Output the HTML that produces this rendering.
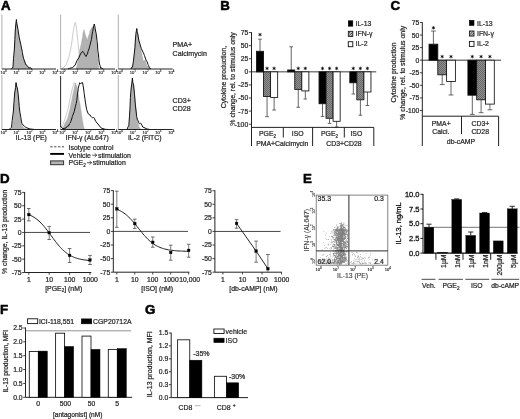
<!DOCTYPE html>
<html><head><meta charset="utf-8"><title>Figure</title>
<style>html,body{margin:0;padding:0;background:#fff;}svg{display:block;}text{font-family:"Liberation Sans",sans-serif;}</style>
</head><body>
<svg width="520" height="419" viewBox="0 0 520 419">
<defs>
<pattern id="hatch" width="2" height="2" patternUnits="userSpaceOnUse">
<rect width="2" height="2" fill="#8e8e8e"/>
<rect x="0" y="0" width="1" height="1" fill="#6a6a6a"/>
<rect x="1" y="1" width="1" height="1" fill="#6a6a6a"/>
</pattern>
<pattern id="hatch2" width="2.6" height="2.6" patternUnits="userSpaceOnUse">
<rect width="2.6" height="2.6" fill="#fff"/>
<path d="M-1,3.6 L3.6,-1 M-1,1 L1,-1 M1.6,3.6 L3.6,1.6" stroke="#222" stroke-width="0.9"/>
</pattern>
<filter id="soft" x="-2%" y="-2%" width="104%" height="104%"><feGaussianBlur stdDeviation="0.38"/></filter>
</defs>
<rect width="520" height="419" fill="#fff"/>
<g filter="url(#soft)">

<text x="0.9" y="9.8" font-size="13.3" text-anchor="start" font-weight="bold" fill="#000" stroke="#000" stroke-width="0.55" >A</text>
<text x="220.3" y="10" font-size="13.3" text-anchor="start" font-weight="bold" fill="#000" stroke="#000" stroke-width="0.55" >B</text>
<text x="390.6" y="10.1" font-size="13.3" text-anchor="start" font-weight="bold" fill="#000" stroke="#000" stroke-width="0.55" >C</text>
<text x="0" y="182.8" font-size="13.3" text-anchor="start" font-weight="bold" fill="#000" stroke="#000" stroke-width="0.55" >D</text>
<text x="302.9" y="183.4" font-size="13.3" text-anchor="start" font-weight="bold" fill="#000" stroke="#000" stroke-width="0.55" >E</text>
<text x="0" y="313.8" font-size="13.3" text-anchor="start" font-weight="bold" fill="#000" stroke="#000" stroke-width="0.55" >F</text>
<text x="145" y="313.8" font-size="13.3" text-anchor="start" font-weight="bold" fill="#000" stroke="#000" stroke-width="0.55" >G</text>
<line x1="1.90" y1="14.70" x2="1.90" y2="69.00" stroke="#999" stroke-width="0.8" />
<path d="M12.50,69.00 L12.91,67.01 L13.50,66.00 L14.08,57.40 L14.50,50.00 L15.02,39.81 L15.50,30.00 L15.78,25.51 L16.50,21.00 L16.77,23.91 L17.50,27.00 L17.78,30.43 L18.50,35.00 L19.21,38.96 L20.00,42.00 L20.56,45.61 L21.50,50.00 L22.31,54.13 L23.00,57.00 L24.04,59.86 L25.00,63.00 L26.24,64.12 L27.00,66.50 L28.68,67.21 L30.00,68.50 L30.82,68.21 L32.00,69.00 Z" fill="#b2b2b2" stroke="#9a9a9a" stroke-width="0.4"/>
<path d="M11.00,69.00 L11.90,68.57 L13.00,67.00 L13.49,58.65 L14.30,50.00 L14.87,39.77 L15.30,30.00 L15.87,23.96 L16.40,19.50 L16.63,22.22 L17.30,26.00 L17.99,29.37 L18.50,33.00 L19.16,37.15 L20.00,41.00 L20.73,44.14 L21.50,48.00 L22.40,52.36 L23.00,56.00 L23.62,58.63 L24.50,61.00 L25.51,63.93 L26.50,65.50 L27.86,66.37 L29.00,68.00 L30.74,67.81 L32.00,69.00" fill="none" stroke="#111" stroke-width="1.0" stroke-linejoin="round"/>
<line x1="1.90" y1="69.00" x2="56.00" y2="69.00" stroke="#222" stroke-width="1.0" />
<text x="0.5999999999999996" y="73.5" font-size="4.1" text-anchor="start" font-weight="normal" fill="#2a2a2a" stroke="#2a2a2a" stroke-width="0.16" >10</text>
<text x="5.1" y="71.7" font-size="2.9" text-anchor="start" font-weight="normal" fill="#2a2a2a" stroke="#2a2a2a" stroke-width="0.14" >0</text>
<text x="13.5" y="73.5" font-size="4.1" text-anchor="start" font-weight="normal" fill="#2a2a2a" stroke="#2a2a2a" stroke-width="0.16" >10</text>
<text x="18.0" y="71.7" font-size="2.9" text-anchor="start" font-weight="normal" fill="#2a2a2a" stroke="#2a2a2a" stroke-width="0.14" >1</text>
<text x="26.400000000000002" y="73.5" font-size="4.1" text-anchor="start" font-weight="normal" fill="#2a2a2a" stroke="#2a2a2a" stroke-width="0.16" >10</text>
<text x="30.900000000000002" y="71.7" font-size="2.9" text-anchor="start" font-weight="normal" fill="#2a2a2a" stroke="#2a2a2a" stroke-width="0.14" >2</text>
<text x="39.3" y="73.5" font-size="4.1" text-anchor="start" font-weight="normal" fill="#2a2a2a" stroke="#2a2a2a" stroke-width="0.16" >10</text>
<text x="43.8" y="71.7" font-size="2.9" text-anchor="start" font-weight="normal" fill="#2a2a2a" stroke="#2a2a2a" stroke-width="0.14" >3</text>
<text x="52.199999999999996" y="73.5" font-size="4.1" text-anchor="start" font-weight="normal" fill="#2a2a2a" stroke="#2a2a2a" stroke-width="0.16" >10</text>
<text x="56.699999999999996" y="71.7" font-size="2.9" text-anchor="start" font-weight="normal" fill="#2a2a2a" stroke="#2a2a2a" stroke-width="0.14" >4</text>
<line x1="60.60" y1="14.70" x2="60.60" y2="69.00" stroke="#999" stroke-width="0.8" />
<path d="M61.00,69.00 L63.00,68.00 L66.00,65.00 L69.00,57.00 L71.50,45.00 L73.00,33.00 L74.50,24.00 L75.30,22.50 L76.20,26.00 L77.50,38.00 L79.00,52.00 L80.50,62.00 L82.00,67.00 L84.00,69.00" fill="none" stroke="#aaa" stroke-width="0.6"/>
<path d="M76.00,69.00 L76.71,66.86 L77.50,64.00 L78.08,59.48 L79.00,55.00 L79.52,51.24 L80.50,47.00 L81.38,43.60 L82.00,40.00 L82.69,36.24 L83.00,33.00 L83.60,31.38 L84.00,29.50 L84.54,31.69 L85.00,34.00 L85.92,36.62 L86.50,38.00 L86.99,39.48 L87.50,40.50 L87.78,38.53 L88.50,36.00 L89.32,34.19 L90.00,31.00 L90.91,29.20 L91.50,28.00 L92.19,27.49 L93.00,26.50 L93.51,27.20 L94.50,28.00 L95.08,30.96 L96.00,35.00 L96.28,41.88 L97.00,48.00 L97.31,53.65 L98.00,60.00 L98.35,65.02 L98.80,69.00 Z" fill="#b2b2b2" stroke="#9a9a9a" stroke-width="0.4"/>
<path d="M68.00,69.00 L69.29,68.41 L71.00,68.00 L72.52,67.69 L74.00,66.00 L75.16,65.16 L76.00,63.00 L76.89,60.85 L78.00,59.00 L78.93,57.69 L80.00,55.00 L81.23,52.87 L82.00,52.00 L83.00,51.50 L83.59,52.27 L84.50,54.00 L85.12,55.22 L86.00,56.50 L86.79,54.82 L87.50,54.00 L88.00,51.35 L89.00,49.00 L89.68,46.12 L90.50,43.00 L91.48,39.34 L92.00,35.00 L92.66,31.71 L93.30,28.00 L93.89,25.20 L94.30,24.00 L94.95,27.00 L95.20,29.00 L96.04,33.04 L96.50,36.00 L96.95,40.32 L97.50,45.00 L97.80,50.24 L98.50,55.00 L98.78,58.72 L99.50,64.00 L100.05,65.64 L100.90,68.50 L101.87,67.94 L103.00,69.00" fill="none" stroke="#111" stroke-width="1.0" stroke-linejoin="round"/>
<line x1="60.60" y1="69.00" x2="115.00" y2="69.00" stroke="#222" stroke-width="1.0" />
<text x="59.3" y="73.5" font-size="4.1" text-anchor="start" font-weight="normal" fill="#2a2a2a" stroke="#2a2a2a" stroke-width="0.16" >10</text>
<text x="63.8" y="71.7" font-size="2.9" text-anchor="start" font-weight="normal" fill="#2a2a2a" stroke="#2a2a2a" stroke-width="0.14" >0</text>
<text x="72.3" y="73.5" font-size="4.1" text-anchor="start" font-weight="normal" fill="#2a2a2a" stroke="#2a2a2a" stroke-width="0.16" >10</text>
<text x="76.8" y="71.7" font-size="2.9" text-anchor="start" font-weight="normal" fill="#2a2a2a" stroke="#2a2a2a" stroke-width="0.14" >1</text>
<text x="85.3" y="73.5" font-size="4.1" text-anchor="start" font-weight="normal" fill="#2a2a2a" stroke="#2a2a2a" stroke-width="0.16" >10</text>
<text x="89.8" y="71.7" font-size="2.9" text-anchor="start" font-weight="normal" fill="#2a2a2a" stroke="#2a2a2a" stroke-width="0.14" >2</text>
<text x="98.3" y="73.5" font-size="4.1" text-anchor="start" font-weight="normal" fill="#2a2a2a" stroke="#2a2a2a" stroke-width="0.16" >10</text>
<text x="102.8" y="71.7" font-size="2.9" text-anchor="start" font-weight="normal" fill="#2a2a2a" stroke="#2a2a2a" stroke-width="0.14" >3</text>
<text x="111.3" y="73.5" font-size="4.1" text-anchor="start" font-weight="normal" fill="#2a2a2a" stroke="#2a2a2a" stroke-width="0.16" >10</text>
<text x="115.8" y="71.7" font-size="2.9" text-anchor="start" font-weight="normal" fill="#2a2a2a" stroke="#2a2a2a" stroke-width="0.14" >4</text>
<line x1="118.30" y1="14.70" x2="118.30" y2="69.00" stroke="#999" stroke-width="0.8" />
<path d="M131.50,69.00 L132.00,67.01 L133.00,66.00 L133.55,60.31 L134.50,55.00 L134.91,47.02 L135.80,38.00 L136.41,33.26 L136.90,29.50 L137.33,32.54 L138.00,36.00 L138.68,39.47 L139.50,44.00 L140.42,47.69 L141.00,50.00 L141.73,53.48 L142.50,57.00 L142.79,58.94 L143.50,62.00 L143.92,60.67 L144.50,60.00 L145.41,61.03 L146.00,63.00 L146.76,65.38 L148.00,66.50 L149.26,67.26 L150.50,69.00 Z" fill="#b2b2b2" stroke="#9a9a9a" stroke-width="0.4"/>
<path d="M131.00,69.00 L131.77,67.15 L132.50,67.00 L133.26,62.36 L134.00,56.00 L134.93,47.35 L135.50,38.00 L136.03,33.01 L136.80,28.50 L137.13,31.74 L137.80,34.00 L138.42,38.00 L139.00,41.00 L139.66,43.00 L140.50,46.00 L141.41,48.87 L142.00,50.00 L142.93,52.05 L143.50,53.00 L144.41,55.43 L145.00,57.00 L145.61,59.03 L146.50,61.00 L147.18,61.90 L148.00,64.50 L148.51,65.60 L149.50,67.50 L150.13,68.60 L151.00,69.00" fill="none" stroke="#111" stroke-width="1.0" stroke-linejoin="round"/>
<line x1="118.30" y1="69.00" x2="172.60" y2="69.00" stroke="#222" stroke-width="1.0" />
<text x="116.8" y="73.5" font-size="4.1" text-anchor="start" font-weight="normal" fill="#2a2a2a" stroke="#2a2a2a" stroke-width="0.16" >10</text>
<text x="121.3" y="71.7" font-size="2.9" text-anchor="start" font-weight="normal" fill="#2a2a2a" stroke="#2a2a2a" stroke-width="0.14" >0</text>
<text x="129.65" y="73.5" font-size="4.1" text-anchor="start" font-weight="normal" fill="#2a2a2a" stroke="#2a2a2a" stroke-width="0.16" >10</text>
<text x="134.15" y="71.7" font-size="2.9" text-anchor="start" font-weight="normal" fill="#2a2a2a" stroke="#2a2a2a" stroke-width="0.14" >1</text>
<text x="142.5" y="73.5" font-size="4.1" text-anchor="start" font-weight="normal" fill="#2a2a2a" stroke="#2a2a2a" stroke-width="0.16" >10</text>
<text x="147.0" y="71.7" font-size="2.9" text-anchor="start" font-weight="normal" fill="#2a2a2a" stroke="#2a2a2a" stroke-width="0.14" >2</text>
<text x="155.35000000000002" y="73.5" font-size="4.1" text-anchor="start" font-weight="normal" fill="#2a2a2a" stroke="#2a2a2a" stroke-width="0.16" >10</text>
<text x="159.85000000000002" y="71.7" font-size="2.9" text-anchor="start" font-weight="normal" fill="#2a2a2a" stroke="#2a2a2a" stroke-width="0.14" >3</text>
<text x="168.20000000000002" y="73.5" font-size="4.1" text-anchor="start" font-weight="normal" fill="#2a2a2a" stroke="#2a2a2a" stroke-width="0.16" >10</text>
<text x="172.70000000000002" y="71.7" font-size="2.9" text-anchor="start" font-weight="normal" fill="#2a2a2a" stroke="#2a2a2a" stroke-width="0.14" >4</text>
<line x1="1.90" y1="75.00" x2="1.90" y2="129.50" stroke="#999" stroke-width="0.8" />
<path d="M11.00,129.50 L11.98,127.68 L12.50,126.00 L13.37,118.68 L13.80,110.00 L14.63,100.81 L15.00,92.00 L15.46,87.37 L16.20,83.50 L16.65,85.84 L17.40,89.00 L18.06,96.06 L18.60,102.00 L19.37,108.97 L19.80,116.00 L20.48,119.92 L21.00,123.00 L21.79,125.22 L23.00,127.00 L24.70,128.40 L26.00,129.00 L31.00,129.50 Z" fill="#b2b2b2" stroke="#9a9a9a" stroke-width="0.4"/>
<path d="M9.00,129.50 L10.38,128.46 L11.50,127.50 L12.24,120.27 L13.30,112.00 L13.92,103.04 L14.70,93.00 L15.59,87.56 L16.00,82.50 L16.60,86.05 L17.30,88.00 L18.16,93.91 L18.80,101.00 L19.21,106.37 L20.00,113.00 L20.85,117.55 L21.30,121.00 L21.97,123.59 L23.00,125.00 L24.74,126.53 L26.00,127.50 L30.00,129.00 L35.00,129.50" fill="none" stroke="#111" stroke-width="1.0" stroke-linejoin="round"/>
<line x1="1.90" y1="129.50" x2="56.00" y2="129.50" stroke="#222" stroke-width="1.0" />
<text x="0.5999999999999996" y="134.0" font-size="4.1" text-anchor="start" font-weight="normal" fill="#2a2a2a" stroke="#2a2a2a" stroke-width="0.16" >10</text>
<text x="5.1" y="132.2" font-size="2.9" text-anchor="start" font-weight="normal" fill="#2a2a2a" stroke="#2a2a2a" stroke-width="0.14" >0</text>
<text x="13.5" y="134.0" font-size="4.1" text-anchor="start" font-weight="normal" fill="#2a2a2a" stroke="#2a2a2a" stroke-width="0.16" >10</text>
<text x="18.0" y="132.2" font-size="2.9" text-anchor="start" font-weight="normal" fill="#2a2a2a" stroke="#2a2a2a" stroke-width="0.14" >1</text>
<text x="26.400000000000002" y="134.0" font-size="4.1" text-anchor="start" font-weight="normal" fill="#2a2a2a" stroke="#2a2a2a" stroke-width="0.16" >10</text>
<text x="30.900000000000002" y="132.2" font-size="2.9" text-anchor="start" font-weight="normal" fill="#2a2a2a" stroke="#2a2a2a" stroke-width="0.14" >2</text>
<text x="39.3" y="134.0" font-size="4.1" text-anchor="start" font-weight="normal" fill="#2a2a2a" stroke="#2a2a2a" stroke-width="0.16" >10</text>
<text x="43.8" y="132.2" font-size="2.9" text-anchor="start" font-weight="normal" fill="#2a2a2a" stroke="#2a2a2a" stroke-width="0.14" >3</text>
<text x="52.199999999999996" y="134.0" font-size="4.1" text-anchor="start" font-weight="normal" fill="#2a2a2a" stroke="#2a2a2a" stroke-width="0.16" >10</text>
<text x="56.699999999999996" y="132.2" font-size="2.9" text-anchor="start" font-weight="normal" fill="#2a2a2a" stroke="#2a2a2a" stroke-width="0.14" >4</text>
<line x1="60.60" y1="76.00" x2="60.60" y2="129.50" stroke="#999" stroke-width="0.8" />
<path d="M61.50,128.00 L63.50,123.00 L66.00,116.00 L68.50,107.00 L70.50,97.00 L72.50,88.00 L74.30,82.50 L75.50,84.00" fill="none" stroke="#aaa" stroke-width="0.6"/>
<path d="M62.00,129.50 L62.93,127.82 L64.00,126.00 L65.07,122.82 L66.50,121.00 L67.99,117.21 L69.00,113.00 L70.01,109.11 L71.00,104.00 L71.97,99.52 L73.00,94.00 L73.91,90.10 L74.50,87.00 L74.98,84.71 L75.70,83.00 L76.22,85.12 L77.00,87.00 L77.63,90.89 L78.50,95.00 L79.07,100.07 L80.00,104.00 L80.68,108.94 L81.50,114.00 L82.29,119.57 L83.00,124.00 L83.71,127.33 L84.50,129.50 Z" fill="#b2b2b2" stroke="#9a9a9a" stroke-width="0.4"/>
<path d="M60.60,126.00 L61.05,126.86 L61.50,127.60 L63.00,128.60 L66.00,128.00 L67.26,126.13 L68.50,126.00 L69.37,123.93 L70.30,123.00 L70.75,121.54 L71.70,119.00 L72.34,116.45 L73.30,114.00 L74.16,111.60 L74.80,109.00 L75.41,106.28 L76.20,103.50 L76.73,100.76 L77.20,97.00 L77.40,94.11 L78.00,91.00 L78.27,88.10 L78.80,86.00 L79.34,84.36 L79.60,82.70 L80.33,83.47 L81.00,83.30 L81.96,82.80 L82.50,82.50 L83.06,85.26 L83.50,88.00 L84.16,93.35 L84.80,98.00 L85.38,102.06 L86.00,106.00 L86.74,109.79 L87.50,112.00 L88.35,113.93 L89.00,114.50 L90.22,115.07 L91.00,116.50 L92.28,117.80 L93.50,117.50 L94.42,118.10 L95.00,120.00 L95.81,121.40 L97.00,123.00 L98.04,124.03 L99.50,126.00 L100.54,127.46 L102.00,128.30 L105.00,129.30 L108.00,129.50" fill="none" stroke="#111" stroke-width="1.0" stroke-linejoin="round"/>
<line x1="60.60" y1="129.50" x2="115.00" y2="129.50" stroke="#222" stroke-width="1.0" />
<text x="59.3" y="134.0" font-size="4.1" text-anchor="start" font-weight="normal" fill="#2a2a2a" stroke="#2a2a2a" stroke-width="0.16" >10</text>
<text x="63.8" y="132.2" font-size="2.9" text-anchor="start" font-weight="normal" fill="#2a2a2a" stroke="#2a2a2a" stroke-width="0.14" >0</text>
<text x="72.3" y="134.0" font-size="4.1" text-anchor="start" font-weight="normal" fill="#2a2a2a" stroke="#2a2a2a" stroke-width="0.16" >10</text>
<text x="76.8" y="132.2" font-size="2.9" text-anchor="start" font-weight="normal" fill="#2a2a2a" stroke="#2a2a2a" stroke-width="0.14" >1</text>
<text x="85.3" y="134.0" font-size="4.1" text-anchor="start" font-weight="normal" fill="#2a2a2a" stroke="#2a2a2a" stroke-width="0.16" >10</text>
<text x="89.8" y="132.2" font-size="2.9" text-anchor="start" font-weight="normal" fill="#2a2a2a" stroke="#2a2a2a" stroke-width="0.14" >2</text>
<text x="98.3" y="134.0" font-size="4.1" text-anchor="start" font-weight="normal" fill="#2a2a2a" stroke="#2a2a2a" stroke-width="0.16" >10</text>
<text x="102.8" y="132.2" font-size="2.9" text-anchor="start" font-weight="normal" fill="#2a2a2a" stroke="#2a2a2a" stroke-width="0.14" >3</text>
<text x="111.3" y="134.0" font-size="4.1" text-anchor="start" font-weight="normal" fill="#2a2a2a" stroke="#2a2a2a" stroke-width="0.16" >10</text>
<text x="115.8" y="132.2" font-size="2.9" text-anchor="start" font-weight="normal" fill="#2a2a2a" stroke="#2a2a2a" stroke-width="0.14" >4</text>
<line x1="60.60" y1="76.00" x2="60.60" y2="127.00" stroke="#222" stroke-width="0.9" />
<line x1="118.30" y1="75.00" x2="118.30" y2="129.50" stroke="#999" stroke-width="0.8" />
<path d="M128.00,129.50 L128.79,127.81 L129.30,125.00 L129.63,116.80 L130.30,108.00 L130.88,98.50 L131.30,90.00 L132.09,85.40 L132.50,79.50 L132.96,83.38 L133.70,86.00 L134.30,92.98 L135.00,100.00 L135.89,106.97 L136.30,113.00 L136.73,117.40 L137.50,122.00 L138.26,124.27 L139.00,127.00 L139.85,128.00 L141.00,129.50 Z" fill="#b2b2b2" stroke="#9a9a9a" stroke-width="0.4"/>
<path d="M127.00,129.50 L128.01,126.89 L128.80,126.00 L129.43,116.89 L130.00,108.00 L130.36,97.70 L131.20,88.00 L131.86,83.02 L132.40,78.00 L132.78,82.37 L133.60,85.00 L134.39,92.85 L134.90,99.00 L135.35,105.08 L136.20,112.00 L136.62,116.50 L137.50,120.00 L138.04,120.73 L138.80,122.80 L139.51,123.79 L140.30,123.30 L141.21,123.72 L141.80,125.00 L142.72,127.00 L144.00,127.50 L147.00,129.00 L150.00,129.50" fill="none" stroke="#111" stroke-width="1.0" stroke-linejoin="round"/>
<line x1="118.30" y1="129.50" x2="172.60" y2="129.50" stroke="#222" stroke-width="1.0" />
<text x="116.8" y="134.0" font-size="4.1" text-anchor="start" font-weight="normal" fill="#2a2a2a" stroke="#2a2a2a" stroke-width="0.16" >10</text>
<text x="121.3" y="132.2" font-size="2.9" text-anchor="start" font-weight="normal" fill="#2a2a2a" stroke="#2a2a2a" stroke-width="0.14" >0</text>
<text x="129.65" y="134.0" font-size="4.1" text-anchor="start" font-weight="normal" fill="#2a2a2a" stroke="#2a2a2a" stroke-width="0.16" >10</text>
<text x="134.15" y="132.2" font-size="2.9" text-anchor="start" font-weight="normal" fill="#2a2a2a" stroke="#2a2a2a" stroke-width="0.14" >1</text>
<text x="142.5" y="134.0" font-size="4.1" text-anchor="start" font-weight="normal" fill="#2a2a2a" stroke="#2a2a2a" stroke-width="0.16" >10</text>
<text x="147.0" y="132.2" font-size="2.9" text-anchor="start" font-weight="normal" fill="#2a2a2a" stroke="#2a2a2a" stroke-width="0.14" >2</text>
<text x="155.35000000000002" y="134.0" font-size="4.1" text-anchor="start" font-weight="normal" fill="#2a2a2a" stroke="#2a2a2a" stroke-width="0.16" >10</text>
<text x="159.85000000000002" y="132.2" font-size="2.9" text-anchor="start" font-weight="normal" fill="#2a2a2a" stroke="#2a2a2a" stroke-width="0.14" >3</text>
<text x="168.20000000000002" y="134.0" font-size="4.1" text-anchor="start" font-weight="normal" fill="#2a2a2a" stroke="#2a2a2a" stroke-width="0.16" >10</text>
<text x="172.70000000000002" y="132.2" font-size="2.9" text-anchor="start" font-weight="normal" fill="#2a2a2a" stroke="#2a2a2a" stroke-width="0.14" >4</text>
<text x="15.5" y="139.7" font-size="6.9" text-anchor="start" font-weight="normal" fill="#262626" stroke="#262626" stroke-width="0.22" >IL-13 (PE)</text>
<text x="65.6" y="139.6" font-size="6.9" text-anchor="start" font-weight="normal" fill="#262626" stroke="#262626" stroke-width="0.22" >IFN-&#947; (AL647)</text>
<text x="127.9" y="139.6" font-size="6.9" text-anchor="start" font-weight="normal" fill="#262626" stroke="#262626" stroke-width="0.22" >IL-2 (FITC)</text>
<text x="172.6" y="46.9" font-size="7.1" text-anchor="start" font-weight="normal" fill="#262626" stroke="#262626" stroke-width="0.22" >PMA+</text>
<text x="172.6" y="55.5" font-size="7.1" text-anchor="start" font-weight="normal" fill="#262626" stroke="#262626" stroke-width="0.22" >Calcimycin</text>
<text x="172.6" y="102.6" font-size="7.1" text-anchor="start" font-weight="normal" fill="#262626" stroke="#262626" stroke-width="0.22" >CD3+</text>
<text x="172.6" y="111.3" font-size="7.1" text-anchor="start" font-weight="normal" fill="#262626" stroke="#262626" stroke-width="0.22" >CD28</text>
<line x1="50.20" y1="146.80" x2="64.00" y2="146.80" stroke="#333" stroke-width="0.9" stroke-dasharray="2.4 1.5"/>
<text x="68.6" y="149.8" font-size="6.9" text-anchor="start" font-weight="normal" fill="#262626" stroke="#262626" stroke-width="0.22" >Isotype control</text>
<line x1="50.20" y1="153.90" x2="64.00" y2="153.90" stroke="#000" stroke-width="1.9" />
<text x="68.6" y="157.8" font-size="6.9" text-anchor="start" font-weight="normal" fill="#262626" stroke="#262626" stroke-width="0.22" >Vehicle</text>
<path d="M92.20,155.20 h4.6 m-2,-1.7 l2,1.7 l-2,1.7" fill="none" stroke="#222" stroke-width="0.75"/>
<text x="98.0" y="157.8" font-size="6.9" text-anchor="start" font-weight="normal" fill="#262626" stroke="#262626" stroke-width="0.22" >stimulation</text>
<rect x="50.60" y="160.90" width="13.00" height="3.80" fill="#b4b4b4" stroke="#333" stroke-width="1.0"/>
<text x="68.6" y="165.2" font-size="6.9" text-anchor="start" font-weight="normal" fill="#262626" stroke="#262626" stroke-width="0.22" >PGE<tspan font-size="4.6" dy="1.6">2</tspan></text>
<path d="M87.00,162.70 h4.6 m-2,-1.7 l2,1.7 l-2,1.7" fill="none" stroke="#222" stroke-width="0.75"/>
<text x="92.8" y="165.2" font-size="6.9" text-anchor="start" font-weight="normal" fill="#262626" stroke="#262626" stroke-width="0.22" >stimulation</text>
<line x1="251.50" y1="32.20" x2="251.50" y2="146.00" stroke="#222" stroke-width="1.0" />
<line x1="248.90" y1="32.59" x2="251.50" y2="32.59" stroke="#222" stroke-width="0.85" />
<text x="248.2" y="35.045" font-size="6.8" text-anchor="end" font-weight="normal" fill="#262626" stroke="#262626" stroke-width="0.22" >75</text>
<line x1="248.90" y1="45.68" x2="251.50" y2="45.68" stroke="#222" stroke-width="0.85" />
<text x="248.2" y="48.129999999999995" font-size="6.8" text-anchor="end" font-weight="normal" fill="#262626" stroke="#262626" stroke-width="0.22" >50</text>
<line x1="248.90" y1="58.76" x2="251.50" y2="58.76" stroke="#222" stroke-width="0.85" />
<text x="248.2" y="61.214999999999996" font-size="6.8" text-anchor="end" font-weight="normal" fill="#262626" stroke="#262626" stroke-width="0.22" >25</text>
<line x1="248.90" y1="71.85" x2="251.50" y2="71.85" stroke="#222" stroke-width="0.85" />
<text x="248.2" y="74.3" font-size="6.8" text-anchor="end" font-weight="normal" fill="#262626" stroke="#262626" stroke-width="0.22" >0</text>
<line x1="248.90" y1="84.93" x2="251.50" y2="84.93" stroke="#222" stroke-width="0.85" />
<text x="248.2" y="87.38499999999999" font-size="6.8" text-anchor="end" font-weight="normal" fill="#262626" stroke="#262626" stroke-width="0.22" >-25</text>
<line x1="248.90" y1="98.02" x2="251.50" y2="98.02" stroke="#222" stroke-width="0.85" />
<text x="248.2" y="100.47" font-size="6.8" text-anchor="end" font-weight="normal" fill="#262626" stroke="#262626" stroke-width="0.22" >-50</text>
<line x1="248.90" y1="111.10" x2="251.50" y2="111.10" stroke="#222" stroke-width="0.85" />
<text x="248.2" y="113.55499999999999" font-size="6.8" text-anchor="end" font-weight="normal" fill="#262626" stroke="#262626" stroke-width="0.22" >-75</text>
<line x1="248.90" y1="124.19" x2="251.50" y2="124.19" stroke="#222" stroke-width="0.85" />
<text x="248.2" y="126.64" font-size="6.8" text-anchor="end" font-weight="normal" fill="#262626" stroke="#262626" stroke-width="0.22" >-100</text>
<line x1="251.50" y1="71.85" x2="376.20" y2="71.85" stroke="#333" stroke-width="0.95" />
<line x1="260.02" y1="51.30" x2="260.02" y2="39.20" stroke="#666" stroke-width="1.0" />
<line x1="258.22" y1="39.20" x2="261.82" y2="39.20" stroke="#555" stroke-width="0.9" />
<rect x="256.50" y="51.30" width="7.05" height="20.55" fill="#000" stroke="#111" stroke-width="0.85"/>
<circle cx="260.02" cy="34.60" r="0.85" fill="#111"/><g stroke="#111" stroke-width="0.7" stroke-linecap="round"><path d="M260.02,33.25 V35.95 M258.77,33.90 L261.27,35.30 M258.77,35.30 L261.27,33.90"/></g>
<line x1="267.07" y1="96.45" x2="267.07" y2="116.70" stroke="#666" stroke-width="1.0" />
<line x1="265.27" y1="116.70" x2="268.88" y2="116.70" stroke="#555" stroke-width="0.9" />
<rect x="263.55" y="71.85" width="7.05" height="24.60" fill="url(#hatch)" stroke="#111" stroke-width="0.85"/>
<circle cx="267.07" cy="68.40" r="0.85" fill="#111"/><g stroke="#111" stroke-width="0.7" stroke-linecap="round"><path d="M267.07,67.05 V69.75 M265.82,67.70 L268.32,69.10 M265.82,69.10 L268.32,67.70"/></g>
<line x1="274.12" y1="97.50" x2="274.12" y2="110.00" stroke="#666" stroke-width="1.0" />
<line x1="272.32" y1="110.00" x2="275.93" y2="110.00" stroke="#555" stroke-width="0.9" />
<rect x="270.60" y="71.85" width="7.05" height="25.65" fill="#fff" stroke="#111" stroke-width="0.85"/>
<circle cx="274.12" cy="68.40" r="0.85" fill="#111"/><g stroke="#111" stroke-width="0.7" stroke-linecap="round"><path d="M274.12,67.05 V69.75 M272.88,67.70 L275.38,69.10 M272.88,69.10 L275.38,67.70"/></g>
<line x1="291.22" y1="69.97" x2="291.22" y2="46.80" stroke="#666" stroke-width="1.0" />
<line x1="289.42" y1="46.80" x2="293.02" y2="46.80" stroke="#555" stroke-width="0.9" />
<rect x="287.70" y="69.97" width="7.05" height="1.88" fill="#000" stroke="#111" stroke-width="0.85"/>
<line x1="298.27" y1="89.38" x2="298.27" y2="107.28" stroke="#666" stroke-width="1.0" />
<line x1="296.47" y1="107.28" x2="300.07" y2="107.28" stroke="#555" stroke-width="0.9" />
<rect x="294.75" y="71.85" width="7.05" height="17.53" fill="url(#hatch)" stroke="#111" stroke-width="0.85"/>
<circle cx="298.27" cy="68.40" r="0.85" fill="#111"/><g stroke="#111" stroke-width="0.7" stroke-linecap="round"><path d="M298.27,67.05 V69.75 M297.02,67.70 L299.52,69.10 M297.02,69.10 L299.52,67.70"/></g>
<line x1="305.32" y1="90.90" x2="305.32" y2="99.00" stroke="#666" stroke-width="1.0" />
<line x1="303.52" y1="99.00" x2="307.12" y2="99.00" stroke="#555" stroke-width="0.9" />
<rect x="301.80" y="71.85" width="7.05" height="19.05" fill="#fff" stroke="#111" stroke-width="0.85"/>
<circle cx="305.32" cy="68.40" r="0.85" fill="#111"/><g stroke="#111" stroke-width="0.7" stroke-linecap="round"><path d="M305.32,67.05 V69.75 M304.07,67.70 L306.57,69.10 M304.07,69.10 L306.57,67.70"/></g>
<line x1="322.52" y1="103.73" x2="322.52" y2="116.43" stroke="#666" stroke-width="1.0" />
<line x1="320.72" y1="116.43" x2="324.32" y2="116.43" stroke="#555" stroke-width="0.9" />
<rect x="319.00" y="71.85" width="7.05" height="31.88" fill="#000" stroke="#111" stroke-width="0.85"/>
<circle cx="322.52" cy="68.40" r="0.85" fill="#111"/><g stroke="#111" stroke-width="0.7" stroke-linecap="round"><path d="M322.52,67.05 V69.75 M321.27,67.70 L323.77,69.10 M321.27,69.10 L323.77,67.70"/></g>
<line x1="329.57" y1="118.28" x2="329.57" y2="123.38" stroke="#666" stroke-width="1.0" />
<line x1="327.77" y1="123.38" x2="331.38" y2="123.38" stroke="#555" stroke-width="0.9" />
<rect x="326.05" y="71.85" width="7.05" height="46.43" fill="url(#hatch)" stroke="#111" stroke-width="0.85"/>
<circle cx="329.57" cy="68.40" r="0.85" fill="#111"/><g stroke="#111" stroke-width="0.7" stroke-linecap="round"><path d="M329.57,67.05 V69.75 M328.32,67.70 L330.82,69.10 M328.32,69.10 L330.82,67.70"/></g>
<line x1="336.62" y1="121.31" x2="336.62" y2="126.91" stroke="#666" stroke-width="1.0" />
<line x1="334.82" y1="126.91" x2="338.43" y2="126.91" stroke="#555" stroke-width="0.9" />
<rect x="333.10" y="71.85" width="7.05" height="49.46" fill="#fff" stroke="#111" stroke-width="0.85"/>
<circle cx="336.62" cy="68.40" r="0.85" fill="#111"/><g stroke="#111" stroke-width="0.7" stroke-linecap="round"><path d="M336.62,67.05 V69.75 M335.38,67.70 L337.88,69.10 M335.38,69.10 L337.88,67.70"/></g>
<line x1="353.32" y1="82.79" x2="353.32" y2="93.99" stroke="#666" stroke-width="1.0" />
<line x1="351.52" y1="93.99" x2="355.12" y2="93.99" stroke="#555" stroke-width="0.9" />
<rect x="349.80" y="71.85" width="7.05" height="10.94" fill="#000" stroke="#111" stroke-width="0.85"/>
<circle cx="353.32" cy="68.40" r="0.85" fill="#111"/><g stroke="#111" stroke-width="0.7" stroke-linecap="round"><path d="M353.32,67.05 V69.75 M352.07,67.70 L354.57,69.10 M352.07,69.10 L354.57,67.70"/></g>
<line x1="360.38" y1="99.80" x2="360.38" y2="115.20" stroke="#666" stroke-width="1.0" />
<line x1="358.57" y1="115.20" x2="362.18" y2="115.20" stroke="#555" stroke-width="0.9" />
<rect x="356.85" y="71.85" width="7.05" height="27.95" fill="url(#hatch)" stroke="#111" stroke-width="0.85"/>
<circle cx="360.38" cy="68.40" r="0.85" fill="#111"/><g stroke="#111" stroke-width="0.7" stroke-linecap="round"><path d="M360.38,67.05 V69.75 M359.12,67.70 L361.62,69.10 M359.12,69.10 L361.62,67.70"/></g>
<line x1="367.43" y1="92.00" x2="367.43" y2="105.50" stroke="#666" stroke-width="1.0" />
<line x1="365.62" y1="105.50" x2="369.23" y2="105.50" stroke="#555" stroke-width="0.9" />
<rect x="363.90" y="71.85" width="7.05" height="20.15" fill="#fff" stroke="#111" stroke-width="0.85"/>
<circle cx="367.43" cy="68.40" r="0.85" fill="#111"/><g stroke="#111" stroke-width="0.7" stroke-linecap="round"><path d="M367.43,67.05 V69.75 M366.18,67.70 L368.68,69.10 M366.18,69.10 L368.68,67.70"/></g>
<rect x="348.30" y="20.80" width="4.50" height="5.40" fill="#000" stroke="#000" stroke-width="0.6"/>
<text x="355.6" y="26.1" font-size="6.9" text-anchor="start" font-weight="normal" fill="#262626" stroke="#262626" stroke-width="0.22" >IL-13</text>
<rect x="348.30" y="31.30" width="4.50" height="5.20" fill="url(#hatch2)" stroke="#111" stroke-width="0.8"/>
<text x="355.6" y="36.3" font-size="6.9" text-anchor="start" font-weight="normal" fill="#262626" stroke="#262626" stroke-width="0.22" >IFN-&#947;</text>
<rect x="348.30" y="41.70" width="4.50" height="5.00" fill="#fff" stroke="#111" stroke-width="0.9"/>
<text x="355.6" y="46.3" font-size="6.9" text-anchor="start" font-weight="normal" fill="#262626" stroke="#262626" stroke-width="0.22" >IL-2</text>
<line x1="251.50" y1="127.40" x2="373.80" y2="127.40" stroke="#222" stroke-width="1.0" />
<line x1="373.80" y1="127.40" x2="373.80" y2="146.00" stroke="#222" stroke-width="1.0" />
<line x1="312.60" y1="127.40" x2="312.60" y2="146.00" stroke="#222" stroke-width="1.0" />
<line x1="283.30" y1="127.40" x2="283.30" y2="137.50" stroke="#222" stroke-width="1.0" />
<line x1="344.30" y1="127.40" x2="344.30" y2="137.50" stroke="#222" stroke-width="1.0" />
<text x="267.5" y="135.9" font-size="6.9" text-anchor="middle" font-weight="normal" fill="#262626" stroke="#262626" stroke-width="0.22" >PGE<tspan font-size="4.6" dy="1.6">2</tspan></text>
<text x="297.7" y="135.9" font-size="6.9" text-anchor="middle" font-weight="normal" fill="#262626" stroke="#262626" stroke-width="0.22" >ISO</text>
<text x="329.5" y="135.9" font-size="6.9" text-anchor="middle" font-weight="normal" fill="#262626" stroke="#262626" stroke-width="0.22" >PGE<tspan font-size="4.6" dy="1.6">2</tspan></text>
<text x="356.4" y="135.9" font-size="6.9" text-anchor="middle" font-weight="normal" fill="#262626" stroke="#262626" stroke-width="0.22" >ISO</text>
<text x="282.3" y="145.6" font-size="6.9" text-anchor="middle" font-weight="normal" fill="#262626" stroke="#262626" stroke-width="0.22" >PMA+Calcimycin</text>
<text x="344" y="145.6" font-size="6.9" text-anchor="middle" font-weight="normal" fill="#262626" stroke="#262626" stroke-width="0.22" >CD3+CD28</text>
<text x="225.8" y="77.05" font-size="6.85" text-anchor="middle" font-weight="normal" fill="#262626" stroke="#262626" stroke-width="0.22" transform="rotate(-90 225.8 77.05)" >Cytokine production,</text>
<text x="234.7" y="78.9" font-size="6.9" text-anchor="middle" font-weight="normal" fill="#262626" stroke="#262626" stroke-width="0.22" transform="rotate(-90 234.7 78.9)" >% change, rel. to stimulus only</text>
<line x1="422.30" y1="22.20" x2="422.30" y2="146.00" stroke="#222" stroke-width="1.0" />
<line x1="419.90" y1="22.48" x2="422.30" y2="22.48" stroke="#222" stroke-width="0.85" />
<text x="419.3" y="24.925" font-size="6.8" text-anchor="end" font-weight="normal" fill="#262626" stroke="#262626" stroke-width="0.22" >75</text>
<line x1="419.90" y1="35.05" x2="422.30" y2="35.05" stroke="#222" stroke-width="0.85" />
<text x="419.3" y="37.50000000000001" font-size="6.8" text-anchor="end" font-weight="normal" fill="#262626" stroke="#262626" stroke-width="0.22" >50</text>
<line x1="419.90" y1="47.62" x2="422.30" y2="47.62" stroke="#222" stroke-width="0.85" />
<text x="419.3" y="50.075" font-size="6.8" text-anchor="end" font-weight="normal" fill="#262626" stroke="#262626" stroke-width="0.22" >25</text>
<line x1="419.90" y1="60.20" x2="422.30" y2="60.20" stroke="#222" stroke-width="0.85" />
<text x="419.3" y="62.650000000000006" font-size="6.8" text-anchor="end" font-weight="normal" fill="#262626" stroke="#262626" stroke-width="0.22" >0</text>
<line x1="419.90" y1="72.78" x2="422.30" y2="72.78" stroke="#222" stroke-width="0.85" />
<text x="419.3" y="75.22500000000001" font-size="6.8" text-anchor="end" font-weight="normal" fill="#262626" stroke="#262626" stroke-width="0.22" >-25</text>
<line x1="419.90" y1="85.35" x2="422.30" y2="85.35" stroke="#222" stroke-width="0.85" />
<text x="419.3" y="87.8" font-size="6.8" text-anchor="end" font-weight="normal" fill="#262626" stroke="#262626" stroke-width="0.22" >-50</text>
<line x1="419.90" y1="97.93" x2="422.30" y2="97.93" stroke="#222" stroke-width="0.85" />
<text x="419.3" y="100.37500000000001" font-size="6.8" text-anchor="end" font-weight="normal" fill="#262626" stroke="#262626" stroke-width="0.22" >-75</text>
<line x1="419.90" y1="110.50" x2="422.30" y2="110.50" stroke="#222" stroke-width="0.85" />
<text x="419.3" y="112.95" font-size="6.8" text-anchor="end" font-weight="normal" fill="#262626" stroke="#262626" stroke-width="0.22" >-100</text>
<line x1="422.30" y1="60.20" x2="501.00" y2="60.20" stroke="#333" stroke-width="0.95" />
<line x1="433.40" y1="44.20" x2="433.40" y2="31.00" stroke="#666" stroke-width="1.0" />
<line x1="431.00" y1="31.00" x2="435.80" y2="31.00" stroke="#555" stroke-width="0.9" />
<rect x="429.00" y="44.20" width="8.80" height="16.00" fill="#000" stroke="#111" stroke-width="0.85"/>
<circle cx="433.40" cy="27.80" r="0.85" fill="#111"/><g stroke="#111" stroke-width="0.7" stroke-linecap="round"><path d="M433.40,26.45 V29.15 M432.15,27.10 L434.65,28.50 M432.15,28.50 L434.65,27.10"/></g>
<line x1="442.20" y1="74.79" x2="442.20" y2="84.59" stroke="#666" stroke-width="1.0" />
<line x1="439.80" y1="84.59" x2="444.60" y2="84.59" stroke="#555" stroke-width="0.9" />
<rect x="437.80" y="60.20" width="8.80" height="14.59" fill="url(#hatch)" stroke="#111" stroke-width="0.85"/>
<circle cx="442.20" cy="56.60" r="0.85" fill="#111"/><g stroke="#111" stroke-width="0.7" stroke-linecap="round"><path d="M442.20,55.25 V57.95 M440.95,55.90 L443.45,57.30 M440.95,57.30 L443.45,55.90"/></g>
<line x1="451.00" y1="81.48" x2="451.00" y2="94.98" stroke="#666" stroke-width="1.0" />
<line x1="448.60" y1="94.98" x2="453.40" y2="94.98" stroke="#555" stroke-width="0.9" />
<rect x="446.60" y="60.20" width="8.80" height="21.28" fill="#fff" stroke="#111" stroke-width="0.85"/>
<circle cx="451.00" cy="56.60" r="0.85" fill="#111"/><g stroke="#111" stroke-width="0.7" stroke-linecap="round"><path d="M451.00,55.25 V57.95 M449.75,55.90 L452.25,57.30 M449.75,57.30 L452.25,55.90"/></g>
<line x1="472.30" y1="95.21" x2="472.30" y2="114.41" stroke="#666" stroke-width="1.0" />
<line x1="469.90" y1="114.41" x2="474.70" y2="114.41" stroke="#555" stroke-width="0.9" />
<rect x="467.90" y="60.20" width="8.80" height="35.01" fill="#000" stroke="#111" stroke-width="0.85"/>
<circle cx="472.30" cy="56.60" r="0.85" fill="#111"/><g stroke="#111" stroke-width="0.7" stroke-linecap="round"><path d="M472.30,55.25 V57.95 M471.05,55.90 L473.55,57.30 M471.05,57.30 L473.55,55.90"/></g>
<line x1="481.10" y1="99.79" x2="481.10" y2="112.69" stroke="#666" stroke-width="1.0" />
<line x1="478.70" y1="112.69" x2="483.50" y2="112.69" stroke="#555" stroke-width="0.9" />
<rect x="476.70" y="60.20" width="8.80" height="39.59" fill="url(#hatch)" stroke="#111" stroke-width="0.85"/>
<circle cx="481.10" cy="56.60" r="0.85" fill="#111"/><g stroke="#111" stroke-width="0.7" stroke-linecap="round"><path d="M481.10,55.25 V57.95 M479.85,55.90 L482.35,57.30 M479.85,57.30 L482.35,55.90"/></g>
<line x1="489.90" y1="104.11" x2="489.90" y2="109.81" stroke="#666" stroke-width="1.0" />
<line x1="487.50" y1="109.81" x2="492.30" y2="109.81" stroke="#555" stroke-width="0.9" />
<rect x="485.50" y="60.20" width="8.80" height="43.91" fill="#fff" stroke="#111" stroke-width="0.85"/>
<circle cx="489.90" cy="56.60" r="0.85" fill="#111"/><g stroke="#111" stroke-width="0.7" stroke-linecap="round"><path d="M489.90,55.25 V57.95 M488.65,55.90 L491.15,57.30 M488.65,57.30 L491.15,55.90"/></g>
<rect x="469.40" y="20.30" width="4.60" height="5.20" fill="#000" stroke="#000" stroke-width="0.6"/>
<text x="477" y="25.6" font-size="6.9" text-anchor="start" font-weight="normal" fill="#262626" stroke="#262626" stroke-width="0.22" >IL-13</text>
<rect x="469.40" y="31.00" width="4.60" height="5.10" fill="url(#hatch2)" stroke="#111" stroke-width="0.8"/>
<text x="477" y="35.8" font-size="6.9" text-anchor="start" font-weight="normal" fill="#262626" stroke="#262626" stroke-width="0.22" >IFN-&#947;</text>
<rect x="469.40" y="41.40" width="4.60" height="5.00" fill="#fff" stroke="#111" stroke-width="0.9"/>
<text x="477" y="46.0" font-size="6.9" text-anchor="start" font-weight="normal" fill="#262626" stroke="#262626" stroke-width="0.22" >IL-2</text>
<line x1="422.30" y1="116.20" x2="498.60" y2="116.20" stroke="#222" stroke-width="1.0" />
<line x1="498.60" y1="116.20" x2="498.60" y2="146.00" stroke="#222" stroke-width="1.0" />
<line x1="461.50" y1="116.20" x2="461.50" y2="134.00" stroke="#222" stroke-width="1.0" />
<text x="441.2" y="125.8" font-size="6.9" text-anchor="middle" font-weight="normal" fill="#262626" stroke="#262626" stroke-width="0.22" >PMA+</text>
<text x="440.8" y="133.9" font-size="6.9" text-anchor="middle" font-weight="normal" fill="#262626" stroke="#262626" stroke-width="0.22" >Calci.</text>
<text x="480.4" y="125.8" font-size="6.9" text-anchor="middle" font-weight="normal" fill="#262626" stroke="#262626" stroke-width="0.22" >CD3+</text>
<text x="480.2" y="133.9" font-size="6.9" text-anchor="middle" font-weight="normal" fill="#262626" stroke="#262626" stroke-width="0.22" >CD28</text>
<text x="461" y="143.9" font-size="6.9" text-anchor="middle" font-weight="normal" fill="#262626" stroke="#262626" stroke-width="0.22" >db-cAMP</text>
<text x="396.5" y="72.4" font-size="6.8" text-anchor="middle" font-weight="normal" fill="#262626" stroke="#262626" stroke-width="0.22" transform="rotate(-90 396.5 72.4)" >Cytokine production</text>
<text x="405.5" y="72.85" font-size="6.95" text-anchor="middle" font-weight="normal" fill="#262626" stroke="#262626" stroke-width="0.22" transform="rotate(-90 405.5 72.85)" >% change, rel. to stimulus only</text>
<line x1="24.60" y1="192.00" x2="24.60" y2="272.50" stroke="#222" stroke-width="1.0" />
<line x1="22.20" y1="192.40" x2="24.60" y2="192.40" stroke="#222" stroke-width="0.85" />
<text x="21.5" y="194.84999999999997" font-size="6.8" text-anchor="end" font-weight="normal" fill="#262626" stroke="#262626" stroke-width="0.22" >75</text>
<line x1="22.20" y1="205.75" x2="24.60" y2="205.75" stroke="#222" stroke-width="0.85" />
<text x="21.5" y="208.2" font-size="6.8" text-anchor="end" font-weight="normal" fill="#262626" stroke="#262626" stroke-width="0.22" >50</text>
<line x1="22.20" y1="219.10" x2="24.60" y2="219.10" stroke="#222" stroke-width="0.85" />
<text x="21.5" y="221.54999999999998" font-size="6.8" text-anchor="end" font-weight="normal" fill="#262626" stroke="#262626" stroke-width="0.22" >25</text>
<line x1="22.20" y1="232.45" x2="24.60" y2="232.45" stroke="#222" stroke-width="0.85" />
<text x="21.5" y="234.89999999999998" font-size="6.8" text-anchor="end" font-weight="normal" fill="#262626" stroke="#262626" stroke-width="0.22" >0</text>
<line x1="22.20" y1="245.80" x2="24.60" y2="245.80" stroke="#222" stroke-width="0.85" />
<text x="21.5" y="248.24999999999997" font-size="6.8" text-anchor="end" font-weight="normal" fill="#262626" stroke="#262626" stroke-width="0.22" >-25</text>
<line x1="22.20" y1="259.15" x2="24.60" y2="259.15" stroke="#222" stroke-width="0.85" />
<text x="21.5" y="261.59999999999997" font-size="6.8" text-anchor="end" font-weight="normal" fill="#262626" stroke="#262626" stroke-width="0.22" >-50</text>
<line x1="22.20" y1="272.50" x2="24.60" y2="272.50" stroke="#222" stroke-width="0.85" />
<text x="21.5" y="274.95" font-size="6.8" text-anchor="end" font-weight="normal" fill="#262626" stroke="#262626" stroke-width="0.22" >-75</text>
<line x1="24.60" y1="272.50" x2="91.30" y2="272.50" stroke="#222" stroke-width="1.0" />
<line x1="24.60" y1="232.45" x2="90.00" y2="232.45" stroke="#333" stroke-width="0.9" />
<line x1="28.80" y1="272.50" x2="28.80" y2="274.80" stroke="#222" stroke-width="0.85" />
<text x="28.8" y="281.9" font-size="6.8" text-anchor="middle" font-weight="normal" fill="#262626" stroke="#262626" stroke-width="0.22" >1</text>
<line x1="49.20" y1="272.50" x2="49.20" y2="274.80" stroke="#222" stroke-width="0.85" />
<text x="49.2" y="281.9" font-size="6.8" text-anchor="middle" font-weight="normal" fill="#262626" stroke="#262626" stroke-width="0.22" >10</text>
<line x1="69.60" y1="272.50" x2="69.60" y2="274.80" stroke="#222" stroke-width="0.85" />
<text x="69.6" y="281.9" font-size="6.8" text-anchor="middle" font-weight="normal" fill="#262626" stroke="#262626" stroke-width="0.22" >100</text>
<line x1="90.00" y1="272.50" x2="90.00" y2="274.80" stroke="#222" stroke-width="0.85" />
<text x="90.2" y="281.9" font-size="6.8" text-anchor="middle" font-weight="normal" fill="#262626" stroke="#262626" stroke-width="0.22" >1000</text>
<path d="M28.80,214.61 L29.82,215.04 L30.84,215.51 L31.86,216.03 L32.88,216.59 L33.90,217.21 L34.92,217.87 L35.94,218.59 L36.96,219.37 L37.98,220.20 L39.00,221.10 L40.02,222.05 L41.04,223.06 L42.06,224.13 L43.08,225.26 L44.10,226.44 L45.12,227.67 L46.14,228.94 L47.16,230.26 L48.18,231.60 L49.20,232.98 L50.22,234.37 L51.24,235.77 L52.26,237.17 L53.28,238.56 L54.30,239.94 L55.32,241.29 L56.34,242.61 L57.36,243.90 L58.38,245.14 L59.40,246.33 L60.42,247.47 L61.44,248.55 L62.46,249.58 L63.48,250.54 L64.50,251.45 L65.52,252.29 L66.54,253.08 L67.56,253.82 L68.58,254.49 L69.60,255.12 L70.62,255.69 L71.64,256.22 L72.66,256.70 L73.68,257.14 L74.70,257.54 L75.72,257.91 L76.74,258.24 L77.76,258.54 L78.78,258.82 L79.80,259.06 L80.82,259.29 L81.84,259.49 L82.86,259.67 L83.88,259.83 L84.90,259.98 L85.92,260.12 L86.94,260.24 L87.96,260.34 L88.98,260.44 L90.00,260.53" fill="none" stroke="#111" stroke-width="0.95"/>
<line x1="28.80" y1="208.50" x2="28.80" y2="220.90" stroke="#777" stroke-width="0.95" />
<line x1="27.00" y1="208.50" x2="30.60" y2="208.50" stroke="#555" stroke-width="0.85" />
<line x1="27.00" y1="220.90" x2="30.60" y2="220.90" stroke="#555" stroke-width="0.85" />
<rect x="27.45" y="213.25" width="2.70" height="2.70" fill="#000" stroke="#000" stroke-width="0.3"/>
<line x1="49.20" y1="226.40" x2="49.20" y2="239.50" stroke="#777" stroke-width="0.95" />
<line x1="47.40" y1="226.40" x2="51.00" y2="226.40" stroke="#555" stroke-width="0.85" />
<line x1="47.40" y1="239.50" x2="51.00" y2="239.50" stroke="#555" stroke-width="0.85" />
<rect x="47.85" y="231.35" width="2.70" height="2.70" fill="#000" stroke="#000" stroke-width="0.3"/>
<line x1="69.60" y1="248.50" x2="69.60" y2="262.50" stroke="#777" stroke-width="0.95" />
<line x1="67.80" y1="248.50" x2="71.40" y2="248.50" stroke="#555" stroke-width="0.85" />
<line x1="67.80" y1="262.50" x2="71.40" y2="262.50" stroke="#555" stroke-width="0.85" />
<rect x="68.25" y="254.05" width="2.70" height="2.70" fill="#000" stroke="#000" stroke-width="0.3"/>
<line x1="90.00" y1="255.40" x2="90.00" y2="264.50" stroke="#777" stroke-width="0.95" />
<line x1="88.20" y1="255.40" x2="91.80" y2="255.40" stroke="#555" stroke-width="0.85" />
<line x1="88.20" y1="264.50" x2="91.80" y2="264.50" stroke="#555" stroke-width="0.85" />
<rect x="88.65" y="258.65" width="2.70" height="2.70" fill="#000" stroke="#000" stroke-width="0.3"/>
<text x="63.7" y="290.7" font-size="6.9" text-anchor="middle" font-weight="normal" fill="#262626" stroke="#262626" stroke-width="0.22" >[PGE<tspan font-size="4.6" dy="1.6">2</tspan><tspan dy="-1.6">] (nM)</tspan></text>
<text x="7.5" y="231.9" font-size="6.9" text-anchor="middle" font-weight="normal" fill="#262626" stroke="#262626" stroke-width="0.22" transform="rotate(-90 7.5 231.9)" >% change, IL-13 production</text>
<line x1="113.30" y1="190.20" x2="113.30" y2="272.20" stroke="#222" stroke-width="1.0" />
<line x1="110.90" y1="190.60" x2="113.30" y2="190.60" stroke="#222" stroke-width="0.85" />
<text x="110.2" y="193.04999999999995" font-size="6.8" text-anchor="end" font-weight="normal" fill="#262626" stroke="#262626" stroke-width="0.22" >75</text>
<line x1="110.90" y1="204.20" x2="113.30" y2="204.20" stroke="#222" stroke-width="0.85" />
<text x="110.2" y="206.64999999999998" font-size="6.8" text-anchor="end" font-weight="normal" fill="#262626" stroke="#262626" stroke-width="0.22" >50</text>
<line x1="110.90" y1="217.80" x2="113.30" y2="217.80" stroke="#222" stroke-width="0.85" />
<text x="110.2" y="220.24999999999997" font-size="6.8" text-anchor="end" font-weight="normal" fill="#262626" stroke="#262626" stroke-width="0.22" >25</text>
<line x1="110.90" y1="231.40" x2="113.30" y2="231.40" stroke="#222" stroke-width="0.85" />
<text x="110.2" y="233.84999999999997" font-size="6.8" text-anchor="end" font-weight="normal" fill="#262626" stroke="#262626" stroke-width="0.22" >0</text>
<line x1="110.90" y1="245.00" x2="113.30" y2="245.00" stroke="#222" stroke-width="0.85" />
<text x="110.2" y="247.44999999999996" font-size="6.8" text-anchor="end" font-weight="normal" fill="#262626" stroke="#262626" stroke-width="0.22" >-25</text>
<line x1="110.90" y1="258.60" x2="113.30" y2="258.60" stroke="#222" stroke-width="0.85" />
<text x="110.2" y="261.04999999999995" font-size="6.8" text-anchor="end" font-weight="normal" fill="#262626" stroke="#262626" stroke-width="0.22" >-50</text>
<line x1="110.90" y1="272.20" x2="113.30" y2="272.20" stroke="#222" stroke-width="0.85" />
<text x="110.2" y="274.65" font-size="6.8" text-anchor="end" font-weight="normal" fill="#262626" stroke="#262626" stroke-width="0.22" >-75</text>
<line x1="113.30" y1="272.20" x2="189.30" y2="272.20" stroke="#222" stroke-width="1.0" />
<line x1="113.30" y1="231.40" x2="188.00" y2="231.40" stroke="#333" stroke-width="0.9" />
<line x1="116.80" y1="272.20" x2="116.80" y2="274.50" stroke="#222" stroke-width="0.85" />
<text x="116.8" y="281.5" font-size="6.8" text-anchor="middle" font-weight="normal" fill="#262626" stroke="#262626" stroke-width="0.22" >1</text>
<line x1="134.77" y1="272.20" x2="134.77" y2="274.50" stroke="#222" stroke-width="0.85" />
<text x="134.76999999999998" y="281.5" font-size="6.8" text-anchor="middle" font-weight="normal" fill="#262626" stroke="#262626" stroke-width="0.22" >10</text>
<line x1="152.74" y1="272.20" x2="152.74" y2="274.50" stroke="#222" stroke-width="0.85" />
<text x="152.74" y="281.5" font-size="6.8" text-anchor="middle" font-weight="normal" fill="#262626" stroke="#262626" stroke-width="0.22" >100</text>
<line x1="170.71" y1="272.20" x2="170.71" y2="274.50" stroke="#222" stroke-width="0.85" />
<text x="171.10999999999999" y="281.5" font-size="6.8" text-anchor="middle" font-weight="normal" fill="#262626" stroke="#262626" stroke-width="0.22" >1000</text>
<line x1="188.68" y1="272.20" x2="188.68" y2="274.50" stroke="#222" stroke-width="0.85" />
<text x="189.68" y="281.5" font-size="6.8" text-anchor="middle" font-weight="normal" fill="#262626" stroke="#262626" stroke-width="0.22" >10,000</text>
<path d="M116.80,209.23 L118.00,209.73 L119.20,210.28 L120.39,210.89 L121.59,211.57 L122.79,212.31 L123.99,213.12 L125.19,214.01 L126.38,214.97 L127.58,216.01 L128.78,217.12 L129.98,218.30 L131.18,219.56 L132.37,220.88 L133.57,222.25 L134.77,223.68 L135.97,225.14 L137.17,226.63 L138.36,228.13 L139.56,229.64 L140.76,231.14 L141.96,232.61 L143.16,234.05 L144.35,235.44 L145.55,236.78 L146.75,238.06 L147.95,239.27 L149.15,240.41 L150.34,241.48 L151.54,242.46 L152.74,243.38 L153.94,244.22 L155.14,244.98 L156.33,245.68 L157.53,246.32 L158.73,246.89 L159.93,247.41 L161.13,247.87 L162.32,248.29 L163.52,248.66 L164.72,248.99 L165.92,249.29 L167.12,249.55 L168.31,249.78 L169.51,249.99 L170.71,250.17 L171.91,250.33 L173.11,250.48 L174.30,250.60 L175.50,250.71 L176.70,250.81 L177.90,250.90 L179.10,250.97 L180.29,251.04 L181.49,251.10 L182.69,251.15 L183.89,251.20 L185.09,251.24 L186.28,251.27 L187.48,251.30 L188.68,251.33" fill="none" stroke="#111" stroke-width="0.95"/>
<line x1="116.80" y1="191.20" x2="116.80" y2="227.30" stroke="#777" stroke-width="0.95" />
<line x1="115.00" y1="191.20" x2="118.60" y2="191.20" stroke="#555" stroke-width="0.85" />
<line x1="115.00" y1="227.30" x2="118.60" y2="227.30" stroke="#555" stroke-width="0.85" />
<rect x="115.45" y="207.45" width="2.70" height="2.70" fill="#000" stroke="#000" stroke-width="0.3"/>
<line x1="134.77" y1="219.20" x2="134.77" y2="228.40" stroke="#777" stroke-width="0.95" />
<line x1="132.97" y1="219.20" x2="136.57" y2="219.20" stroke="#555" stroke-width="0.85" />
<line x1="132.97" y1="228.40" x2="136.57" y2="228.40" stroke="#555" stroke-width="0.85" />
<rect x="133.42" y="222.25" width="2.70" height="2.70" fill="#000" stroke="#000" stroke-width="0.3"/>
<line x1="152.74" y1="237.00" x2="152.74" y2="247.20" stroke="#777" stroke-width="0.95" />
<line x1="150.94" y1="237.00" x2="154.54" y2="237.00" stroke="#555" stroke-width="0.85" />
<line x1="150.94" y1="247.20" x2="154.54" y2="247.20" stroke="#555" stroke-width="0.85" />
<rect x="151.39" y="240.95" width="2.70" height="2.70" fill="#000" stroke="#000" stroke-width="0.3"/>
<line x1="170.71" y1="245.20" x2="170.71" y2="260.20" stroke="#777" stroke-width="0.95" />
<line x1="168.91" y1="245.20" x2="172.51" y2="245.20" stroke="#555" stroke-width="0.85" />
<line x1="168.91" y1="260.20" x2="172.51" y2="260.20" stroke="#555" stroke-width="0.85" />
<rect x="169.36" y="251.15" width="2.70" height="2.70" fill="#000" stroke="#000" stroke-width="0.3"/>
<line x1="188.68" y1="244.30" x2="188.68" y2="257.20" stroke="#777" stroke-width="0.95" />
<line x1="186.88" y1="244.30" x2="190.48" y2="244.30" stroke="#555" stroke-width="0.85" />
<line x1="186.88" y1="257.20" x2="190.48" y2="257.20" stroke="#555" stroke-width="0.85" />
<rect x="187.33" y="249.05" width="2.70" height="2.70" fill="#000" stroke="#000" stroke-width="0.3"/>
<text x="157.2" y="290.7" font-size="6.9" text-anchor="middle" font-weight="normal" fill="#262626" stroke="#262626" stroke-width="0.22" >[ISO] (nM)</text>
<line x1="214.90" y1="190.30" x2="214.90" y2="272.20" stroke="#222" stroke-width="1.0" />
<line x1="212.50" y1="190.70" x2="214.90" y2="190.70" stroke="#222" stroke-width="0.85" />
<text x="211.8" y="193.14999999999998" font-size="6.8" text-anchor="end" font-weight="normal" fill="#262626" stroke="#262626" stroke-width="0.22" >75</text>
<line x1="212.50" y1="204.28" x2="214.90" y2="204.28" stroke="#222" stroke-width="0.85" />
<text x="211.8" y="206.73333333333332" font-size="6.8" text-anchor="end" font-weight="normal" fill="#262626" stroke="#262626" stroke-width="0.22" >50</text>
<line x1="212.50" y1="217.87" x2="214.90" y2="217.87" stroke="#222" stroke-width="0.85" />
<text x="211.8" y="220.31666666666663" font-size="6.8" text-anchor="end" font-weight="normal" fill="#262626" stroke="#262626" stroke-width="0.22" >25</text>
<line x1="212.50" y1="231.45" x2="214.90" y2="231.45" stroke="#222" stroke-width="0.85" />
<text x="211.8" y="233.89999999999998" font-size="6.8" text-anchor="end" font-weight="normal" fill="#262626" stroke="#262626" stroke-width="0.22" >0</text>
<line x1="212.50" y1="245.03" x2="214.90" y2="245.03" stroke="#222" stroke-width="0.85" />
<text x="211.8" y="247.48333333333332" font-size="6.8" text-anchor="end" font-weight="normal" fill="#262626" stroke="#262626" stroke-width="0.22" >-25</text>
<line x1="212.50" y1="258.62" x2="214.90" y2="258.62" stroke="#222" stroke-width="0.85" />
<text x="211.8" y="261.06666666666666" font-size="6.8" text-anchor="end" font-weight="normal" fill="#262626" stroke="#262626" stroke-width="0.22" >-50</text>
<line x1="212.50" y1="272.20" x2="214.90" y2="272.20" stroke="#222" stroke-width="0.85" />
<text x="211.8" y="274.65" font-size="6.8" text-anchor="end" font-weight="normal" fill="#262626" stroke="#262626" stroke-width="0.22" >-75</text>
<line x1="214.90" y1="272.20" x2="281.80" y2="272.20" stroke="#222" stroke-width="1.0" />
<line x1="214.90" y1="231.45" x2="280.50" y2="231.45" stroke="#333" stroke-width="0.9" />
<line x1="222.90" y1="272.20" x2="222.90" y2="274.50" stroke="#222" stroke-width="0.85" />
<text x="222.9" y="281.6" font-size="6.8" text-anchor="middle" font-weight="normal" fill="#262626" stroke="#262626" stroke-width="0.22" >1</text>
<line x1="242.45" y1="272.20" x2="242.45" y2="274.50" stroke="#222" stroke-width="0.85" />
<text x="242.45000000000002" y="281.6" font-size="6.8" text-anchor="middle" font-weight="normal" fill="#262626" stroke="#262626" stroke-width="0.22" >10</text>
<line x1="262.00" y1="272.20" x2="262.00" y2="274.50" stroke="#222" stroke-width="0.85" />
<text x="262.0" y="281.6" font-size="6.8" text-anchor="middle" font-weight="normal" fill="#262626" stroke="#262626" stroke-width="0.22" >100</text>
<line x1="281.55" y1="272.20" x2="281.55" y2="274.50" stroke="#222" stroke-width="0.85" />
<text x="281.65000000000003" y="281.6" font-size="6.8" text-anchor="middle" font-weight="normal" fill="#262626" stroke="#262626" stroke-width="0.22" >1000</text>
<path d="M236.56,223.40 L256.11,251.10 L267.89,268.70" fill="none" stroke="#111" stroke-width="0.9"/>
<line x1="236.56" y1="219.60" x2="236.56" y2="228.20" stroke="#777" stroke-width="0.95" />
<line x1="234.76" y1="219.60" x2="238.36" y2="219.60" stroke="#555" stroke-width="0.85" />
<line x1="234.76" y1="228.20" x2="238.36" y2="228.20" stroke="#555" stroke-width="0.85" />
<rect x="235.21" y="222.05" width="2.70" height="2.70" fill="#000" stroke="#000" stroke-width="0.3"/>
<line x1="256.11" y1="241.10" x2="256.11" y2="262.20" stroke="#777" stroke-width="0.95" />
<line x1="254.31" y1="241.10" x2="257.91" y2="241.10" stroke="#555" stroke-width="0.85" />
<line x1="254.31" y1="262.20" x2="257.91" y2="262.20" stroke="#555" stroke-width="0.85" />
<rect x="254.76" y="249.75" width="2.70" height="2.70" fill="#000" stroke="#000" stroke-width="0.3"/>
<line x1="267.89" y1="254.50" x2="267.89" y2="272.20" stroke="#777" stroke-width="0.95" />
<line x1="266.09" y1="254.50" x2="269.69" y2="254.50" stroke="#555" stroke-width="0.85" />
<rect x="266.54" y="267.35" width="2.70" height="2.70" fill="#000" stroke="#000" stroke-width="0.3"/>
<text x="253.4" y="290.7" font-size="6.9" text-anchor="middle" font-weight="normal" fill="#262626" stroke="#262626" stroke-width="0.22" >[db-cAMP] (nM)</text>
<g fill="#333" opacity="0.62"><circle cx="335.9" cy="231.0" r="0.5"/><circle cx="338.5" cy="244.1" r="0.5"/><circle cx="344.4" cy="259.3" r="0.5"/><circle cx="347.2" cy="241.0" r="0.5"/><circle cx="343.6" cy="261.8" r="0.5"/><circle cx="340.6" cy="237.4" r="0.5"/><circle cx="342.6" cy="234.7" r="0.5"/><circle cx="343.0" cy="239.8" r="0.5"/><circle cx="341.5" cy="239.3" r="0.5"/><circle cx="338.6" cy="229.6" r="0.5"/><circle cx="340.8" cy="229.5" r="0.5"/><circle cx="340.3" cy="245.8" r="0.5"/><circle cx="336.4" cy="237.5" r="0.5"/><circle cx="344.8" cy="246.5" r="0.5"/><circle cx="342.6" cy="253.3" r="0.5"/><circle cx="337.8" cy="226.3" r="0.5"/><circle cx="346.3" cy="251.5" r="0.5"/><circle cx="338.1" cy="233.6" r="0.5"/><circle cx="342.6" cy="255.2" r="0.5"/><circle cx="340.7" cy="258.8" r="0.5"/><circle cx="342.9" cy="229.2" r="0.5"/><circle cx="338.3" cy="239.4" r="0.5"/><circle cx="338.8" cy="238.3" r="0.5"/><circle cx="341.3" cy="236.6" r="0.5"/><circle cx="340.0" cy="263.2" r="0.5"/><circle cx="339.6" cy="242.5" r="0.5"/><circle cx="343.9" cy="246.8" r="0.5"/><circle cx="342.1" cy="238.4" r="0.5"/><circle cx="344.8" cy="243.1" r="0.5"/><circle cx="341.5" cy="237.2" r="0.5"/><circle cx="341.0" cy="247.7" r="0.5"/><circle cx="340.8" cy="260.1" r="0.5"/><circle cx="335.7" cy="240.5" r="0.5"/><circle cx="342.8" cy="251.8" r="0.5"/><circle cx="340.6" cy="258.6" r="0.5"/><circle cx="344.6" cy="257.8" r="0.5"/><circle cx="337.7" cy="247.5" r="0.5"/><circle cx="334.2" cy="230.8" r="0.5"/><circle cx="342.9" cy="225.7" r="0.5"/><circle cx="338.6" cy="230.1" r="0.5"/><circle cx="335.9" cy="241.8" r="0.5"/><circle cx="346.1" cy="251.2" r="0.5"/><circle cx="344.9" cy="253.1" r="0.5"/><circle cx="340.5" cy="255.5" r="0.5"/><circle cx="340.8" cy="247.9" r="0.5"/><circle cx="340.1" cy="237.9" r="0.5"/><circle cx="339.7" cy="238.4" r="0.5"/><circle cx="340.5" cy="263.5" r="0.5"/><circle cx="338.4" cy="242.5" r="0.5"/><circle cx="335.5" cy="250.8" r="0.5"/><circle cx="341.5" cy="231.7" r="0.5"/><circle cx="342.4" cy="239.8" r="0.5"/><circle cx="342.9" cy="229.4" r="0.5"/><circle cx="343.4" cy="253.5" r="0.5"/><circle cx="341.8" cy="239.3" r="0.5"/><circle cx="336.9" cy="233.2" r="0.5"/><circle cx="340.4" cy="234.9" r="0.5"/><circle cx="341.2" cy="235.8" r="0.5"/><circle cx="340.0" cy="236.4" r="0.5"/><circle cx="343.1" cy="234.0" r="0.5"/><circle cx="340.0" cy="262.7" r="0.5"/><circle cx="345.2" cy="260.4" r="0.5"/><circle cx="345.6" cy="237.2" r="0.5"/><circle cx="344.0" cy="229.1" r="0.5"/><circle cx="338.4" cy="245.0" r="0.5"/><circle cx="340.2" cy="240.2" r="0.5"/><circle cx="342.6" cy="238.5" r="0.5"/><circle cx="340.9" cy="238.5" r="0.5"/><circle cx="346.3" cy="260.9" r="0.5"/><circle cx="340.0" cy="264.4" r="0.5"/><circle cx="344.1" cy="241.8" r="0.5"/><circle cx="338.3" cy="232.6" r="0.5"/><circle cx="342.0" cy="228.7" r="0.5"/><circle cx="338.5" cy="262.8" r="0.5"/><circle cx="340.6" cy="233.4" r="0.5"/><circle cx="336.2" cy="236.3" r="0.5"/><circle cx="339.2" cy="230.8" r="0.5"/><circle cx="340.4" cy="251.8" r="0.5"/><circle cx="337.0" cy="230.7" r="0.5"/><circle cx="342.4" cy="241.2" r="0.5"/><circle cx="340.0" cy="255.2" r="0.5"/><circle cx="343.5" cy="239.6" r="0.5"/><circle cx="340.4" cy="243.0" r="0.5"/><circle cx="341.8" cy="261.1" r="0.5"/><circle cx="342.6" cy="236.8" r="0.5"/><circle cx="334.3" cy="232.2" r="0.5"/><circle cx="340.0" cy="238.1" r="0.5"/><circle cx="342.1" cy="260.4" r="0.5"/><circle cx="340.8" cy="247.6" r="0.5"/><circle cx="337.2" cy="241.0" r="0.5"/><circle cx="343.4" cy="232.4" r="0.5"/><circle cx="343.7" cy="259.5" r="0.5"/><circle cx="343.7" cy="238.6" r="0.5"/><circle cx="340.8" cy="262.8" r="0.5"/><circle cx="344.3" cy="231.7" r="0.5"/><circle cx="340.3" cy="254.1" r="0.5"/><circle cx="343.9" cy="229.0" r="0.5"/><circle cx="338.4" cy="261.8" r="0.5"/><circle cx="343.9" cy="223.1" r="0.5"/><circle cx="340.8" cy="247.5" r="0.5"/><circle cx="342.5" cy="262.3" r="0.5"/><circle cx="339.9" cy="245.2" r="0.5"/><circle cx="335.8" cy="230.4" r="0.5"/><circle cx="341.3" cy="227.8" r="0.5"/><circle cx="339.0" cy="237.9" r="0.5"/><circle cx="338.4" cy="253.7" r="0.5"/><circle cx="341.8" cy="249.6" r="0.5"/><circle cx="341.7" cy="236.9" r="0.5"/><circle cx="340.4" cy="245.3" r="0.5"/><circle cx="340.5" cy="225.3" r="0.5"/><circle cx="335.1" cy="237.3" r="0.5"/><circle cx="341.0" cy="239.9" r="0.5"/><circle cx="339.1" cy="252.6" r="0.5"/><circle cx="337.6" cy="231.2" r="0.5"/><circle cx="341.7" cy="243.9" r="0.5"/><circle cx="339.8" cy="255.2" r="0.5"/><circle cx="338.7" cy="236.3" r="0.5"/><circle cx="343.8" cy="230.3" r="0.5"/><circle cx="341.1" cy="239.4" r="0.5"/><circle cx="343.3" cy="228.1" r="0.5"/><circle cx="340.9" cy="243.8" r="0.5"/><circle cx="336.5" cy="242.9" r="0.5"/><circle cx="333.4" cy="263.5" r="0.5"/><circle cx="341.5" cy="242.9" r="0.5"/><circle cx="341.7" cy="236.4" r="0.5"/><circle cx="337.0" cy="234.7" r="0.5"/><circle cx="339.5" cy="262.1" r="0.5"/><circle cx="340.8" cy="242.4" r="0.5"/><circle cx="339.9" cy="240.7" r="0.5"/><circle cx="340.9" cy="241.4" r="0.5"/><circle cx="341.0" cy="239.3" r="0.5"/><circle cx="347.1" cy="241.6" r="0.5"/><circle cx="343.6" cy="230.7" r="0.5"/><circle cx="334.9" cy="242.2" r="0.5"/><circle cx="342.8" cy="260.8" r="0.5"/><circle cx="339.7" cy="243.5" r="0.5"/><circle cx="343.1" cy="230.2" r="0.5"/><circle cx="335.3" cy="261.6" r="0.5"/><circle cx="340.5" cy="238.5" r="0.5"/><circle cx="339.3" cy="234.0" r="0.5"/><circle cx="338.8" cy="240.2" r="0.5"/><circle cx="339.0" cy="229.1" r="0.5"/><circle cx="341.1" cy="262.4" r="0.5"/><circle cx="333.0" cy="237.3" r="0.5"/><circle cx="332.1" cy="232.8" r="0.5"/><circle cx="338.8" cy="246.5" r="0.5"/><circle cx="342.5" cy="234.3" r="0.5"/><circle cx="346.6" cy="258.1" r="0.5"/><circle cx="341.5" cy="240.3" r="0.5"/><circle cx="336.1" cy="256.7" r="0.5"/><circle cx="342.8" cy="237.8" r="0.5"/><circle cx="341.9" cy="230.2" r="0.5"/><circle cx="337.9" cy="229.7" r="0.5"/><circle cx="333.9" cy="246.6" r="0.5"/><circle cx="339.8" cy="243.8" r="0.5"/><circle cx="337.1" cy="252.9" r="0.5"/><circle cx="340.7" cy="233.3" r="0.5"/><circle cx="334.0" cy="229.4" r="0.5"/><circle cx="345.2" cy="255.1" r="0.5"/><circle cx="341.6" cy="234.4" r="0.5"/><circle cx="343.3" cy="227.5" r="0.5"/><circle cx="339.3" cy="264.1" r="0.5"/><circle cx="338.3" cy="230.8" r="0.5"/><circle cx="334.7" cy="245.8" r="0.5"/><circle cx="332.0" cy="236.4" r="0.5"/><circle cx="334.3" cy="239.4" r="0.5"/><circle cx="342.5" cy="233.0" r="0.5"/><circle cx="333.8" cy="259.7" r="0.5"/><circle cx="336.8" cy="238.2" r="0.5"/><circle cx="342.3" cy="250.1" r="0.5"/><circle cx="332.5" cy="236.7" r="0.5"/><circle cx="339.5" cy="238.0" r="0.5"/><circle cx="342.2" cy="252.1" r="0.5"/><circle cx="341.0" cy="253.0" r="0.5"/><circle cx="341.3" cy="240.1" r="0.5"/><circle cx="342.6" cy="231.2" r="0.5"/><circle cx="346.8" cy="243.0" r="0.5"/><circle cx="336.0" cy="234.8" r="0.5"/><circle cx="339.3" cy="243.5" r="0.5"/><circle cx="340.2" cy="234.8" r="0.5"/><circle cx="339.1" cy="243.7" r="0.5"/><circle cx="345.0" cy="235.3" r="0.5"/><circle cx="340.7" cy="254.8" r="0.5"/><circle cx="340.9" cy="231.5" r="0.5"/><circle cx="335.0" cy="260.3" r="0.5"/><circle cx="343.8" cy="234.8" r="0.5"/><circle cx="345.2" cy="261.2" r="0.5"/><circle cx="341.2" cy="251.0" r="0.5"/><circle cx="337.9" cy="239.0" r="0.5"/><circle cx="343.8" cy="261.8" r="0.5"/><circle cx="344.0" cy="234.3" r="0.5"/><circle cx="343.1" cy="262.4" r="0.5"/><circle cx="340.3" cy="229.5" r="0.5"/><circle cx="340.9" cy="223.6" r="0.5"/><circle cx="345.7" cy="258.2" r="0.5"/><circle cx="344.1" cy="243.3" r="0.5"/><circle cx="346.0" cy="232.4" r="0.5"/><circle cx="338.8" cy="243.2" r="0.5"/><circle cx="337.4" cy="237.7" r="0.5"/><circle cx="340.4" cy="260.8" r="0.5"/><circle cx="345.2" cy="230.3" r="0.5"/><circle cx="341.9" cy="235.5" r="0.5"/><circle cx="344.0" cy="251.2" r="0.5"/><circle cx="339.5" cy="244.1" r="0.5"/><circle cx="344.2" cy="244.8" r="0.5"/><circle cx="340.1" cy="246.3" r="0.5"/><circle cx="341.1" cy="256.0" r="0.5"/><circle cx="341.5" cy="245.8" r="0.5"/><circle cx="337.0" cy="233.5" r="0.5"/><circle cx="339.4" cy="247.1" r="0.5"/><circle cx="341.4" cy="251.5" r="0.5"/><circle cx="345.7" cy="247.1" r="0.5"/><circle cx="343.6" cy="246.8" r="0.5"/><circle cx="334.6" cy="259.3" r="0.5"/><circle cx="346.8" cy="230.1" r="0.5"/><circle cx="334.4" cy="263.8" r="0.5"/><circle cx="332.0" cy="231.6" r="0.5"/><circle cx="343.9" cy="237.8" r="0.5"/><circle cx="343.8" cy="234.6" r="0.5"/><circle cx="342.1" cy="229.7" r="0.5"/><circle cx="347.2" cy="246.8" r="0.5"/><circle cx="342.9" cy="246.9" r="0.5"/><circle cx="339.6" cy="230.3" r="0.5"/><circle cx="341.7" cy="233.4" r="0.5"/><circle cx="337.6" cy="256.8" r="0.5"/><circle cx="334.1" cy="247.8" r="0.5"/><circle cx="338.6" cy="227.8" r="0.5"/><circle cx="336.5" cy="229.0" r="0.5"/><circle cx="347.5" cy="238.4" r="0.5"/><circle cx="345.4" cy="256.1" r="0.5"/><circle cx="340.5" cy="235.3" r="0.5"/><circle cx="340.8" cy="229.6" r="0.5"/><circle cx="340.7" cy="237.4" r="0.5"/><circle cx="336.4" cy="229.1" r="0.5"/><circle cx="338.1" cy="234.3" r="0.5"/><circle cx="338.0" cy="260.7" r="0.5"/><circle cx="338.3" cy="237.0" r="0.5"/><circle cx="340.4" cy="241.6" r="0.5"/><circle cx="340.2" cy="241.6" r="0.5"/><circle cx="341.5" cy="236.2" r="0.5"/><circle cx="345.4" cy="245.8" r="0.5"/><circle cx="346.2" cy="234.3" r="0.5"/><circle cx="347.0" cy="251.6" r="0.5"/><circle cx="345.0" cy="238.4" r="0.5"/><circle cx="336.4" cy="251.8" r="0.5"/><circle cx="337.8" cy="244.7" r="0.5"/><circle cx="339.6" cy="230.6" r="0.5"/><circle cx="338.2" cy="236.3" r="0.5"/><circle cx="342.0" cy="237.4" r="0.5"/><circle cx="346.5" cy="248.5" r="0.5"/><circle cx="343.0" cy="232.9" r="0.5"/><circle cx="342.6" cy="246.9" r="0.5"/><circle cx="336.8" cy="240.0" r="0.5"/><circle cx="335.8" cy="230.7" r="0.5"/><circle cx="345.5" cy="229.2" r="0.5"/><circle cx="336.9" cy="230.8" r="0.5"/><circle cx="336.9" cy="245.0" r="0.5"/><circle cx="341.0" cy="230.4" r="0.5"/><circle cx="342.4" cy="255.5" r="0.5"/><circle cx="338.5" cy="238.4" r="0.5"/><circle cx="334.4" cy="244.4" r="0.5"/><circle cx="341.8" cy="251.7" r="0.5"/><circle cx="336.7" cy="232.9" r="0.5"/><circle cx="347.9" cy="238.2" r="0.5"/><circle cx="341.3" cy="238.4" r="0.5"/><circle cx="340.7" cy="227.0" r="0.5"/><circle cx="339.6" cy="233.9" r="0.5"/><circle cx="337.1" cy="263.7" r="0.5"/><circle cx="336.9" cy="258.7" r="0.5"/><circle cx="338.6" cy="254.7" r="0.5"/><circle cx="334.3" cy="239.9" r="0.5"/><circle cx="342.0" cy="261.2" r="0.5"/><circle cx="345.5" cy="230.0" r="0.5"/><circle cx="347.1" cy="234.0" r="0.5"/><circle cx="345.8" cy="230.5" r="0.5"/><circle cx="339.0" cy="255.1" r="0.5"/><circle cx="336.2" cy="249.9" r="0.5"/><circle cx="336.6" cy="237.3" r="0.5"/><circle cx="341.8" cy="230.0" r="0.5"/><circle cx="336.5" cy="230.2" r="0.5"/><circle cx="344.5" cy="258.2" r="0.5"/><circle cx="335.6" cy="239.2" r="0.5"/><circle cx="342.1" cy="236.3" r="0.5"/><circle cx="341.7" cy="244.0" r="0.5"/><circle cx="343.5" cy="254.3" r="0.5"/><circle cx="341.2" cy="240.4" r="0.5"/><circle cx="344.8" cy="229.8" r="0.5"/><circle cx="340.2" cy="244.5" r="0.5"/><circle cx="340.2" cy="241.3" r="0.5"/><circle cx="339.6" cy="259.5" r="0.5"/><circle cx="336.6" cy="258.0" r="0.5"/><circle cx="340.9" cy="256.0" r="0.5"/><circle cx="341.0" cy="236.2" r="0.5"/><circle cx="340.9" cy="257.2" r="0.5"/><circle cx="342.4" cy="258.4" r="0.5"/><circle cx="344.5" cy="262.4" r="0.5"/><circle cx="340.3" cy="246.6" r="0.5"/><circle cx="343.2" cy="251.5" r="0.5"/><circle cx="346.2" cy="256.9" r="0.5"/><circle cx="343.8" cy="241.6" r="0.5"/><circle cx="337.9" cy="233.6" r="0.5"/><circle cx="347.1" cy="236.3" r="0.5"/><circle cx="344.6" cy="260.9" r="0.5"/><circle cx="337.4" cy="231.0" r="0.5"/><circle cx="341.2" cy="255.7" r="0.5"/><circle cx="344.7" cy="251.9" r="0.5"/><circle cx="339.0" cy="258.8" r="0.5"/><circle cx="343.3" cy="255.3" r="0.5"/><circle cx="342.6" cy="249.5" r="0.5"/><circle cx="344.1" cy="245.4" r="0.5"/><circle cx="342.7" cy="239.7" r="0.5"/><circle cx="339.1" cy="258.9" r="0.5"/><circle cx="342.0" cy="240.6" r="0.5"/><circle cx="342.5" cy="234.7" r="0.5"/><circle cx="339.7" cy="233.6" r="0.5"/><circle cx="340.6" cy="228.9" r="0.5"/><circle cx="343.6" cy="233.6" r="0.5"/><circle cx="342.4" cy="235.9" r="0.5"/><circle cx="335.3" cy="232.8" r="0.5"/><circle cx="341.7" cy="243.1" r="0.5"/><circle cx="344.1" cy="253.5" r="0.5"/><circle cx="335.8" cy="234.0" r="0.5"/><circle cx="340.8" cy="243.3" r="0.5"/><circle cx="340.4" cy="249.3" r="0.5"/><circle cx="333.2" cy="243.9" r="0.5"/><circle cx="341.6" cy="238.1" r="0.5"/><circle cx="341.6" cy="224.1" r="0.5"/><circle cx="338.7" cy="240.1" r="0.5"/><circle cx="336.3" cy="232.5" r="0.5"/><circle cx="335.5" cy="251.3" r="0.5"/><circle cx="343.8" cy="244.0" r="0.5"/><circle cx="336.1" cy="252.9" r="0.5"/><circle cx="342.2" cy="233.7" r="0.5"/><circle cx="345.5" cy="242.8" r="0.5"/><circle cx="331.3" cy="248.2" r="0.5"/><circle cx="341.4" cy="256.7" r="0.5"/><circle cx="344.7" cy="249.3" r="0.5"/><circle cx="339.3" cy="254.4" r="0.5"/><circle cx="335.8" cy="230.5" r="0.5"/><circle cx="337.2" cy="230.4" r="0.5"/><circle cx="342.1" cy="256.0" r="0.5"/><circle cx="345.9" cy="263.9" r="0.5"/><circle cx="340.1" cy="243.1" r="0.5"/><circle cx="341.7" cy="243.8" r="0.5"/><circle cx="336.0" cy="238.4" r="0.5"/><circle cx="343.4" cy="255.2" r="0.5"/><circle cx="344.8" cy="257.4" r="0.5"/><circle cx="339.2" cy="236.5" r="0.5"/><circle cx="345.0" cy="236.7" r="0.5"/><circle cx="338.2" cy="237.0" r="0.5"/><circle cx="337.9" cy="227.1" r="0.5"/><circle cx="344.8" cy="233.0" r="0.5"/><circle cx="337.2" cy="248.4" r="0.5"/><circle cx="345.5" cy="259.1" r="0.5"/><circle cx="345.5" cy="242.3" r="0.5"/><circle cx="340.7" cy="229.1" r="0.5"/><circle cx="344.5" cy="239.0" r="0.5"/><circle cx="340.9" cy="244.2" r="0.5"/><circle cx="343.8" cy="252.3" r="0.5"/><circle cx="335.6" cy="238.9" r="0.5"/><circle cx="346.9" cy="234.0" r="0.5"/><circle cx="341.2" cy="228.6" r="0.5"/><circle cx="340.4" cy="262.7" r="0.5"/><circle cx="340.3" cy="237.9" r="0.5"/><circle cx="342.4" cy="256.5" r="0.5"/><circle cx="342.0" cy="234.4" r="0.5"/><circle cx="345.9" cy="260.5" r="0.5"/><circle cx="337.3" cy="256.7" r="0.5"/><circle cx="337.2" cy="258.7" r="0.5"/><circle cx="334.3" cy="253.5" r="0.5"/><circle cx="335.1" cy="260.2" r="0.5"/><circle cx="339.7" cy="238.4" r="0.5"/><circle cx="341.0" cy="231.1" r="0.5"/><circle cx="342.7" cy="234.1" r="0.5"/><circle cx="336.7" cy="259.5" r="0.5"/><circle cx="341.0" cy="258.8" r="0.5"/><circle cx="336.4" cy="258.8" r="0.5"/><circle cx="341.7" cy="243.8" r="0.5"/><circle cx="342.1" cy="251.5" r="0.5"/><circle cx="340.5" cy="250.6" r="0.5"/><circle cx="337.5" cy="263.8" r="0.5"/><circle cx="333.4" cy="246.2" r="0.5"/><circle cx="341.5" cy="251.1" r="0.5"/><circle cx="340.2" cy="259.5" r="0.5"/><circle cx="338.2" cy="256.3" r="0.5"/><circle cx="343.8" cy="244.4" r="0.5"/><circle cx="336.9" cy="233.7" r="0.5"/><circle cx="339.1" cy="246.8" r="0.5"/><circle cx="347.1" cy="246.9" r="0.5"/><circle cx="345.8" cy="240.7" r="0.5"/><circle cx="340.0" cy="239.6" r="0.5"/><circle cx="336.5" cy="230.4" r="0.5"/><circle cx="338.2" cy="260.4" r="0.5"/><circle cx="339.7" cy="229.2" r="0.5"/><circle cx="340.5" cy="261.6" r="0.5"/><circle cx="336.8" cy="261.2" r="0.5"/><circle cx="337.6" cy="250.8" r="0.5"/><circle cx="337.0" cy="253.1" r="0.5"/><circle cx="336.9" cy="252.6" r="0.5"/><circle cx="335.1" cy="235.4" r="0.5"/><circle cx="342.4" cy="256.4" r="0.5"/><circle cx="345.2" cy="258.1" r="0.5"/><circle cx="338.2" cy="248.9" r="0.5"/><circle cx="340.7" cy="240.3" r="0.5"/><circle cx="343.8" cy="251.7" r="0.5"/><circle cx="341.9" cy="230.4" r="0.5"/><circle cx="340.3" cy="257.7" r="0.5"/><circle cx="333.8" cy="229.5" r="0.5"/><circle cx="337.2" cy="250.0" r="0.5"/><circle cx="337.0" cy="251.8" r="0.5"/><circle cx="341.3" cy="229.2" r="0.5"/><circle cx="342.8" cy="233.3" r="0.5"/><circle cx="342.3" cy="230.6" r="0.5"/><circle cx="341.3" cy="237.6" r="0.5"/><circle cx="341.3" cy="235.6" r="0.5"/><circle cx="346.5" cy="259.3" r="0.5"/><circle cx="342.7" cy="232.0" r="0.5"/><circle cx="337.0" cy="262.0" r="0.5"/><circle cx="336.8" cy="263.1" r="0.5"/><circle cx="340.7" cy="252.0" r="0.5"/><circle cx="340.3" cy="234.4" r="0.5"/><circle cx="342.3" cy="234.9" r="0.5"/><circle cx="343.4" cy="242.0" r="0.5"/><circle cx="337.7" cy="244.5" r="0.5"/><circle cx="339.9" cy="241.9" r="0.5"/><circle cx="339.0" cy="251.3" r="0.5"/><circle cx="337.8" cy="262.5" r="0.5"/><circle cx="342.5" cy="249.1" r="0.5"/><circle cx="340.5" cy="232.5" r="0.5"/><circle cx="338.9" cy="250.4" r="0.5"/><circle cx="334.5" cy="234.0" r="0.5"/><circle cx="336.7" cy="244.2" r="0.5"/><circle cx="343.4" cy="250.3" r="0.5"/><circle cx="338.6" cy="232.3" r="0.5"/><circle cx="338.1" cy="238.3" r="0.5"/><circle cx="336.7" cy="233.8" r="0.5"/><circle cx="341.6" cy="230.1" r="0.5"/><circle cx="343.5" cy="238.7" r="0.5"/><circle cx="334.3" cy="233.4" r="0.5"/><circle cx="335.8" cy="229.9" r="0.5"/><circle cx="342.0" cy="257.2" r="0.5"/><circle cx="342.6" cy="238.1" r="0.5"/><circle cx="341.3" cy="245.5" r="0.5"/><circle cx="345.6" cy="238.0" r="0.5"/><circle cx="340.8" cy="232.1" r="0.5"/><circle cx="334.6" cy="231.5" r="0.5"/><circle cx="338.3" cy="260.8" r="0.5"/><circle cx="344.0" cy="249.9" r="0.5"/><circle cx="338.0" cy="235.8" r="0.5"/><circle cx="343.1" cy="249.0" r="0.5"/><circle cx="345.7" cy="247.3" r="0.5"/><circle cx="341.4" cy="232.1" r="0.5"/><circle cx="339.6" cy="256.9" r="0.5"/><circle cx="342.0" cy="250.1" r="0.5"/><circle cx="338.4" cy="230.2" r="0.5"/><circle cx="344.3" cy="234.5" r="0.5"/><circle cx="337.8" cy="238.3" r="0.5"/><circle cx="341.5" cy="226.3" r="0.5"/><circle cx="341.5" cy="222.7" r="0.5"/><circle cx="340.8" cy="235.4" r="0.5"/><circle cx="341.8" cy="230.8" r="0.5"/><circle cx="334.2" cy="262.5" r="0.5"/><circle cx="338.3" cy="236.6" r="0.5"/><circle cx="342.7" cy="233.2" r="0.5"/><circle cx="343.4" cy="251.7" r="0.5"/><circle cx="340.1" cy="228.8" r="0.5"/><circle cx="337.7" cy="234.7" r="0.5"/><circle cx="338.5" cy="241.5" r="0.5"/><circle cx="347.0" cy="225.4" r="0.5"/><circle cx="346.7" cy="251.9" r="0.5"/><circle cx="342.6" cy="233.4" r="0.5"/><circle cx="341.5" cy="262.3" r="0.5"/><circle cx="339.5" cy="255.8" r="0.5"/><circle cx="338.2" cy="240.5" r="0.5"/><circle cx="340.7" cy="235.0" r="0.5"/><circle cx="342.6" cy="234.1" r="0.5"/><circle cx="340.6" cy="235.9" r="0.5"/><circle cx="340.3" cy="261.8" r="0.5"/><circle cx="342.3" cy="241.3" r="0.5"/><circle cx="342.3" cy="232.4" r="0.5"/><circle cx="339.6" cy="234.5" r="0.5"/><circle cx="336.7" cy="241.0" r="0.5"/><circle cx="342.6" cy="234.1" r="0.5"/><circle cx="337.2" cy="231.0" r="0.5"/><circle cx="339.8" cy="259.8" r="0.5"/><circle cx="336.5" cy="243.6" r="0.5"/><circle cx="342.4" cy="234.0" r="0.5"/><circle cx="339.7" cy="240.3" r="0.5"/><circle cx="342.6" cy="240.4" r="0.5"/><circle cx="347.2" cy="260.7" r="0.5"/><circle cx="339.6" cy="239.1" r="0.5"/><circle cx="338.7" cy="236.1" r="0.5"/><circle cx="333.7" cy="241.4" r="0.5"/><circle cx="342.2" cy="260.7" r="0.5"/><circle cx="340.1" cy="254.7" r="0.5"/><circle cx="338.2" cy="257.6" r="0.5"/><circle cx="347.4" cy="235.6" r="0.5"/><circle cx="340.9" cy="261.3" r="0.5"/><circle cx="341.7" cy="235.4" r="0.5"/><circle cx="345.3" cy="254.2" r="0.5"/><circle cx="341.3" cy="250.5" r="0.5"/><circle cx="342.1" cy="238.7" r="0.5"/><circle cx="342.1" cy="257.7" r="0.5"/><circle cx="345.4" cy="236.2" r="0.5"/><circle cx="346.0" cy="254.5" r="0.5"/><circle cx="343.1" cy="257.7" r="0.5"/><circle cx="337.4" cy="238.4" r="0.5"/><circle cx="340.2" cy="231.0" r="0.5"/><circle cx="333.8" cy="235.6" r="0.5"/><circle cx="341.8" cy="229.2" r="0.5"/><circle cx="342.4" cy="250.1" r="0.5"/><circle cx="345.0" cy="247.3" r="0.5"/><circle cx="340.9" cy="254.3" r="0.5"/><circle cx="343.6" cy="254.2" r="0.5"/><circle cx="334.4" cy="255.6" r="0.5"/><circle cx="347.4" cy="234.4" r="0.5"/><circle cx="336.6" cy="248.0" r="0.5"/><circle cx="340.9" cy="263.2" r="0.5"/><circle cx="341.2" cy="237.9" r="0.5"/><circle cx="343.0" cy="233.0" r="0.5"/><circle cx="341.1" cy="235.9" r="0.5"/><circle cx="345.5" cy="247.5" r="0.5"/><circle cx="341.3" cy="232.6" r="0.5"/><circle cx="344.6" cy="233.4" r="0.5"/><circle cx="336.7" cy="246.7" r="0.5"/><circle cx="340.5" cy="233.8" r="0.5"/><circle cx="342.6" cy="259.5" r="0.5"/><circle cx="343.5" cy="234.8" r="0.5"/><circle cx="344.4" cy="235.1" r="0.5"/><circle cx="339.5" cy="258.7" r="0.5"/><circle cx="337.3" cy="230.3" r="0.5"/><circle cx="341.3" cy="240.9" r="0.5"/><circle cx="337.7" cy="263.7" r="0.5"/><circle cx="341.5" cy="262.9" r="0.5"/><circle cx="339.9" cy="231.0" r="0.5"/><circle cx="344.5" cy="241.9" r="0.5"/><circle cx="339.5" cy="246.9" r="0.5"/><circle cx="340.5" cy="233.9" r="0.5"/><circle cx="346.8" cy="229.5" r="0.5"/><circle cx="336.5" cy="224.9" r="0.5"/><circle cx="341.5" cy="238.4" r="0.5"/><circle cx="340.2" cy="238.7" r="0.5"/><circle cx="333.1" cy="237.9" r="0.5"/><circle cx="338.7" cy="244.4" r="0.5"/><circle cx="343.5" cy="251.9" r="0.5"/><circle cx="339.9" cy="250.0" r="0.5"/><circle cx="344.8" cy="245.5" r="0.5"/><circle cx="339.7" cy="234.3" r="0.5"/><circle cx="342.1" cy="243.4" r="0.5"/><circle cx="342.1" cy="237.6" r="0.5"/><circle cx="344.5" cy="234.0" r="0.5"/><circle cx="337.3" cy="236.1" r="0.5"/><circle cx="337.9" cy="245.3" r="0.5"/><circle cx="336.2" cy="240.0" r="0.5"/><circle cx="339.4" cy="236.8" r="0.5"/><circle cx="337.4" cy="229.4" r="0.5"/><circle cx="340.5" cy="259.5" r="0.5"/><circle cx="341.1" cy="239.1" r="0.5"/><circle cx="345.3" cy="228.8" r="0.5"/><circle cx="346.6" cy="231.4" r="0.5"/><circle cx="343.4" cy="242.7" r="0.5"/><circle cx="338.1" cy="255.0" r="0.5"/><circle cx="342.7" cy="233.0" r="0.5"/><circle cx="340.7" cy="241.5" r="0.5"/><circle cx="338.8" cy="250.8" r="0.5"/><circle cx="344.6" cy="255.2" r="0.5"/><circle cx="335.5" cy="255.9" r="0.5"/><circle cx="334.7" cy="261.4" r="0.5"/><circle cx="341.8" cy="259.8" r="0.5"/><circle cx="346.8" cy="246.6" r="0.5"/><circle cx="341.0" cy="226.8" r="0.5"/><circle cx="339.2" cy="259.9" r="0.5"/><circle cx="338.1" cy="245.2" r="0.5"/><circle cx="338.7" cy="239.4" r="0.5"/><circle cx="337.4" cy="240.4" r="0.5"/><circle cx="343.6" cy="259.1" r="0.5"/><circle cx="337.0" cy="239.8" r="0.5"/><circle cx="340.8" cy="249.4" r="0.5"/><circle cx="339.5" cy="230.1" r="0.5"/><circle cx="337.8" cy="238.7" r="0.5"/><circle cx="343.1" cy="261.2" r="0.5"/><circle cx="340.2" cy="230.7" r="0.5"/><circle cx="337.0" cy="228.9" r="0.5"/><circle cx="341.4" cy="225.5" r="0.5"/><circle cx="336.6" cy="242.8" r="0.5"/><circle cx="340.3" cy="250.1" r="0.5"/><circle cx="335.8" cy="247.6" r="0.5"/><circle cx="347.6" cy="242.3" r="0.5"/><circle cx="337.2" cy="260.1" r="0.5"/><circle cx="343.4" cy="226.2" r="0.5"/><circle cx="341.1" cy="264.3" r="0.5"/><circle cx="338.4" cy="235.6" r="0.5"/><circle cx="342.3" cy="234.5" r="0.5"/><circle cx="342.7" cy="260.7" r="0.5"/><circle cx="337.1" cy="258.0" r="0.5"/><circle cx="340.4" cy="247.1" r="0.5"/><circle cx="338.5" cy="251.3" r="0.5"/><circle cx="340.7" cy="241.5" r="0.5"/><circle cx="345.8" cy="243.6" r="0.5"/><circle cx="340.6" cy="239.9" r="0.5"/><circle cx="340.7" cy="258.8" r="0.5"/><circle cx="340.5" cy="252.7" r="0.5"/><circle cx="342.2" cy="238.4" r="0.5"/><circle cx="344.7" cy="247.8" r="0.5"/><circle cx="345.4" cy="233.3" r="0.5"/><circle cx="340.7" cy="255.9" r="0.5"/><circle cx="342.1" cy="247.5" r="0.5"/><circle cx="341.8" cy="224.8" r="0.5"/><circle cx="336.7" cy="229.4" r="0.5"/><circle cx="341.2" cy="241.5" r="0.5"/><circle cx="337.7" cy="238.4" r="0.5"/><circle cx="346.9" cy="241.4" r="0.5"/><circle cx="345.2" cy="242.7" r="0.5"/><circle cx="347.7" cy="263.0" r="0.5"/><circle cx="343.3" cy="251.0" r="0.5"/><circle cx="340.8" cy="232.3" r="0.5"/><circle cx="342.7" cy="227.9" r="0.5"/><circle cx="342.0" cy="263.0" r="0.5"/><circle cx="338.1" cy="262.6" r="0.5"/><circle cx="341.0" cy="236.8" r="0.5"/><circle cx="344.3" cy="260.0" r="0.5"/><circle cx="334.6" cy="235.1" r="0.5"/><circle cx="341.4" cy="235.6" r="0.5"/><circle cx="343.7" cy="233.1" r="0.5"/><circle cx="340.3" cy="242.7" r="0.5"/><circle cx="339.7" cy="258.2" r="0.5"/><circle cx="341.5" cy="237.7" r="0.5"/><circle cx="341.8" cy="230.2" r="0.5"/><circle cx="343.5" cy="241.1" r="0.5"/><circle cx="343.9" cy="238.5" r="0.5"/><circle cx="345.3" cy="234.4" r="0.5"/><circle cx="343.5" cy="231.9" r="0.5"/><circle cx="338.9" cy="254.6" r="0.5"/><circle cx="334.5" cy="262.7" r="0.5"/><circle cx="347.0" cy="237.0" r="0.5"/><circle cx="339.0" cy="238.2" r="0.5"/><circle cx="341.3" cy="227.3" r="0.5"/><circle cx="339.0" cy="250.5" r="0.5"/><circle cx="342.5" cy="247.2" r="0.5"/><circle cx="347.7" cy="238.6" r="0.5"/><circle cx="341.3" cy="249.1" r="0.5"/><circle cx="337.4" cy="242.8" r="0.5"/><circle cx="342.7" cy="232.4" r="0.5"/><circle cx="338.6" cy="248.9" r="0.5"/><circle cx="345.5" cy="246.7" r="0.5"/><circle cx="340.4" cy="237.0" r="0.5"/><circle cx="342.0" cy="254.4" r="0.5"/><circle cx="340.1" cy="235.5" r="0.5"/><circle cx="342.7" cy="253.1" r="0.5"/><circle cx="342.9" cy="241.4" r="0.5"/><circle cx="336.4" cy="237.8" r="0.5"/><circle cx="343.5" cy="227.2" r="0.5"/><circle cx="344.7" cy="233.1" r="0.5"/><circle cx="345.7" cy="230.4" r="0.5"/><circle cx="337.8" cy="234.7" r="0.5"/><circle cx="341.8" cy="230.4" r="0.5"/><circle cx="343.6" cy="251.6" r="0.5"/><circle cx="343.7" cy="254.4" r="0.5"/><circle cx="346.9" cy="244.4" r="0.5"/><circle cx="339.5" cy="258.5" r="0.5"/><circle cx="337.8" cy="239.1" r="0.5"/><circle cx="347.4" cy="230.7" r="0.5"/><circle cx="342.6" cy="232.9" r="0.5"/><circle cx="341.4" cy="228.0" r="0.5"/><circle cx="340.8" cy="242.9" r="0.5"/><circle cx="339.3" cy="258.3" r="0.5"/><circle cx="340.5" cy="232.9" r="0.5"/><circle cx="333.6" cy="255.1" r="0.5"/><circle cx="344.5" cy="227.6" r="0.5"/><circle cx="338.0" cy="253.7" r="0.5"/><circle cx="337.0" cy="233.3" r="0.5"/><circle cx="344.9" cy="253.9" r="0.5"/><circle cx="345.1" cy="230.6" r="0.5"/><circle cx="345.2" cy="227.3" r="0.5"/><circle cx="337.5" cy="231.1" r="0.5"/><circle cx="338.5" cy="240.0" r="0.5"/><circle cx="343.6" cy="254.0" r="0.5"/><circle cx="339.6" cy="247.2" r="0.5"/><circle cx="338.5" cy="262.1" r="0.5"/><circle cx="339.0" cy="234.1" r="0.5"/><circle cx="343.6" cy="257.9" r="0.5"/><circle cx="344.3" cy="255.9" r="0.5"/><circle cx="343.3" cy="245.3" r="0.5"/><circle cx="345.3" cy="258.4" r="0.5"/><circle cx="343.0" cy="236.3" r="0.5"/><circle cx="342.7" cy="238.9" r="0.5"/><circle cx="342.6" cy="233.0" r="0.5"/><circle cx="345.9" cy="245.6" r="0.5"/><circle cx="339.4" cy="229.4" r="0.5"/><circle cx="342.4" cy="231.0" r="0.5"/><circle cx="339.3" cy="263.7" r="0.5"/><circle cx="339.3" cy="244.4" r="0.5"/><circle cx="340.1" cy="248.2" r="0.5"/><circle cx="341.2" cy="229.0" r="0.5"/><circle cx="338.6" cy="233.9" r="0.5"/><circle cx="346.7" cy="232.3" r="0.5"/><circle cx="340.2" cy="258.9" r="0.5"/><circle cx="342.9" cy="234.9" r="0.5"/><circle cx="346.1" cy="230.8" r="0.5"/><circle cx="337.7" cy="258.2" r="0.5"/><circle cx="339.4" cy="242.1" r="0.5"/><circle cx="343.8" cy="231.1" r="0.5"/><circle cx="341.8" cy="251.2" r="0.5"/><circle cx="343.1" cy="224.6" r="0.5"/><circle cx="344.6" cy="234.6" r="0.5"/><circle cx="339.4" cy="249.6" r="0.5"/><circle cx="345.5" cy="244.7" r="0.5"/><circle cx="343.4" cy="232.1" r="0.5"/><circle cx="341.3" cy="235.8" r="0.5"/><circle cx="340.8" cy="230.7" r="0.5"/><circle cx="344.6" cy="239.0" r="0.5"/><circle cx="335.9" cy="247.2" r="0.5"/><circle cx="338.0" cy="252.6" r="0.5"/><circle cx="342.3" cy="233.2" r="0.5"/><circle cx="339.6" cy="244.7" r="0.5"/><circle cx="337.8" cy="232.0" r="0.5"/><circle cx="339.5" cy="245.3" r="0.5"/><circle cx="339.4" cy="252.9" r="0.5"/><circle cx="338.5" cy="262.7" r="0.5"/><circle cx="338.9" cy="251.9" r="0.5"/><circle cx="339.8" cy="234.9" r="0.5"/><circle cx="343.0" cy="244.8" r="0.5"/><circle cx="341.2" cy="252.4" r="0.5"/><circle cx="337.6" cy="247.8" r="0.5"/><circle cx="344.1" cy="243.0" r="0.5"/><circle cx="342.5" cy="232.9" r="0.5"/><circle cx="339.2" cy="230.3" r="0.5"/><circle cx="340.8" cy="237.9" r="0.5"/><circle cx="342.4" cy="248.6" r="0.5"/><circle cx="341.5" cy="247.2" r="0.5"/><circle cx="345.3" cy="231.8" r="0.5"/><circle cx="339.7" cy="259.6" r="0.5"/><circle cx="341.5" cy="254.3" r="0.5"/><circle cx="340.9" cy="228.8" r="0.5"/><circle cx="340.5" cy="228.9" r="0.5"/><circle cx="339.1" cy="232.7" r="0.5"/><circle cx="335.2" cy="256.5" r="0.5"/><circle cx="338.5" cy="237.4" r="0.5"/><circle cx="340.4" cy="236.5" r="0.5"/><circle cx="341.2" cy="254.0" r="0.5"/><circle cx="334.2" cy="259.9" r="0.5"/><circle cx="344.1" cy="261.5" r="0.5"/><circle cx="342.3" cy="241.1" r="0.5"/><circle cx="339.3" cy="253.1" r="0.5"/><circle cx="341.6" cy="255.1" r="0.5"/><circle cx="339.2" cy="230.8" r="0.5"/><circle cx="339.8" cy="232.5" r="0.5"/><circle cx="334.8" cy="261.8" r="0.5"/><circle cx="338.9" cy="238.0" r="0.5"/><circle cx="342.1" cy="235.6" r="0.5"/><circle cx="339.3" cy="232.9" r="0.5"/><circle cx="340.0" cy="233.3" r="0.5"/><circle cx="344.9" cy="253.3" r="0.5"/><circle cx="339.4" cy="232.7" r="0.5"/><circle cx="335.6" cy="229.4" r="0.5"/><circle cx="341.4" cy="234.3" r="0.5"/><circle cx="340.6" cy="259.9" r="0.5"/><circle cx="341.1" cy="258.0" r="0.5"/><circle cx="339.9" cy="242.9" r="0.5"/><circle cx="338.8" cy="231.4" r="0.5"/><circle cx="335.2" cy="231.7" r="0.5"/><circle cx="345.2" cy="236.7" r="0.5"/><circle cx="344.5" cy="235.0" r="0.5"/><circle cx="337.9" cy="245.6" r="0.5"/><circle cx="337.7" cy="229.2" r="0.5"/><circle cx="339.2" cy="240.8" r="0.5"/><circle cx="344.6" cy="231.6" r="0.5"/><circle cx="342.7" cy="238.7" r="0.5"/><circle cx="341.4" cy="246.7" r="0.5"/><circle cx="340.5" cy="262.9" r="0.5"/><circle cx="345.3" cy="236.6" r="0.5"/><circle cx="341.8" cy="259.9" r="0.5"/><circle cx="341.6" cy="241.8" r="0.5"/><circle cx="335.9" cy="257.2" r="0.5"/><circle cx="346.6" cy="239.8" r="0.5"/><circle cx="334.9" cy="255.2" r="0.5"/><circle cx="335.8" cy="248.5" r="0.5"/><circle cx="340.5" cy="231.1" r="0.5"/><circle cx="339.2" cy="234.4" r="0.5"/><circle cx="337.5" cy="237.3" r="0.5"/><circle cx="341.2" cy="233.8" r="0.5"/><circle cx="347.9" cy="244.8" r="0.5"/><circle cx="341.1" cy="239.7" r="0.5"/><circle cx="341.4" cy="239.9" r="0.5"/><circle cx="341.9" cy="248.5" r="0.5"/><circle cx="343.7" cy="229.4" r="0.5"/><circle cx="339.6" cy="249.5" r="0.5"/><circle cx="340.1" cy="226.2" r="0.5"/><circle cx="345.5" cy="259.7" r="0.5"/><circle cx="344.5" cy="233.1" r="0.5"/><circle cx="340.4" cy="234.8" r="0.5"/><circle cx="343.5" cy="253.9" r="0.5"/><circle cx="341.5" cy="250.3" r="0.5"/><circle cx="344.3" cy="229.2" r="0.5"/><circle cx="338.9" cy="263.1" r="0.5"/><circle cx="339.7" cy="229.9" r="0.5"/><circle cx="343.1" cy="235.7" r="0.5"/><circle cx="338.5" cy="260.0" r="0.5"/><circle cx="335.7" cy="240.6" r="0.5"/><circle cx="334.7" cy="252.0" r="0.5"/><circle cx="336.4" cy="231.0" r="0.5"/><circle cx="343.8" cy="230.6" r="0.5"/><circle cx="338.6" cy="250.2" r="0.5"/><circle cx="338.5" cy="245.4" r="0.5"/><circle cx="341.5" cy="250.7" r="0.5"/><circle cx="340.3" cy="234.5" r="0.5"/><circle cx="337.7" cy="256.2" r="0.5"/><circle cx="346.2" cy="248.1" r="0.5"/><circle cx="344.2" cy="248.6" r="0.5"/><circle cx="338.2" cy="255.2" r="0.5"/><circle cx="336.8" cy="254.2" r="0.5"/><circle cx="341.3" cy="256.4" r="0.5"/><circle cx="334.8" cy="227.5" r="0.5"/><circle cx="341.6" cy="262.3" r="0.5"/><circle cx="341.1" cy="252.2" r="0.5"/><circle cx="341.1" cy="241.8" r="0.5"/><circle cx="343.3" cy="232.2" r="0.5"/><circle cx="340.6" cy="233.7" r="0.5"/><circle cx="344.6" cy="235.4" r="0.5"/><circle cx="342.3" cy="229.3" r="0.5"/><circle cx="342.3" cy="255.1" r="0.5"/><circle cx="342.6" cy="256.5" r="0.5"/><circle cx="339.8" cy="263.8" r="0.5"/><circle cx="335.8" cy="257.3" r="0.5"/><circle cx="340.8" cy="240.5" r="0.5"/><circle cx="342.2" cy="231.3" r="0.5"/><circle cx="339.8" cy="243.2" r="0.5"/><circle cx="341.6" cy="243.5" r="0.5"/><circle cx="339.9" cy="236.9" r="0.5"/><circle cx="339.1" cy="237.9" r="0.5"/><circle cx="340.5" cy="236.2" r="0.5"/><circle cx="344.5" cy="251.8" r="0.5"/><circle cx="337.4" cy="249.2" r="0.5"/><circle cx="342.7" cy="258.1" r="0.5"/><circle cx="338.8" cy="240.7" r="0.5"/><circle cx="333.5" cy="253.2" r="0.5"/><circle cx="341.5" cy="245.0" r="0.5"/><circle cx="334.4" cy="260.3" r="0.5"/><circle cx="337.3" cy="256.6" r="0.5"/><circle cx="342.3" cy="228.8" r="0.5"/><circle cx="343.7" cy="232.9" r="0.5"/><circle cx="340.7" cy="240.9" r="0.5"/><circle cx="341.3" cy="255.1" r="0.5"/><circle cx="342.5" cy="232.2" r="0.5"/><circle cx="342.0" cy="261.5" r="0.5"/><circle cx="343.3" cy="253.4" r="0.5"/><circle cx="341.3" cy="246.9" r="0.5"/><circle cx="341.2" cy="229.7" r="0.5"/><circle cx="344.5" cy="227.3" r="0.5"/><circle cx="347.4" cy="246.3" r="0.5"/><circle cx="343.2" cy="253.3" r="0.5"/><circle cx="343.6" cy="255.1" r="0.5"/><circle cx="339.1" cy="246.6" r="0.5"/><circle cx="340.8" cy="229.2" r="0.5"/><circle cx="342.8" cy="236.4" r="0.5"/><circle cx="337.0" cy="235.3" r="0.5"/><circle cx="340.7" cy="247.0" r="0.5"/><circle cx="342.1" cy="248.7" r="0.5"/><circle cx="340.5" cy="252.1" r="0.5"/><circle cx="341.2" cy="248.4" r="0.5"/><circle cx="340.1" cy="243.8" r="0.5"/><circle cx="337.3" cy="227.6" r="0.5"/><circle cx="343.0" cy="234.1" r="0.5"/><circle cx="341.2" cy="261.8" r="0.5"/><circle cx="340.8" cy="250.6" r="0.5"/><circle cx="338.9" cy="233.1" r="0.5"/><circle cx="342.6" cy="233.1" r="0.5"/><circle cx="333.3" cy="253.6" r="0.5"/><circle cx="338.5" cy="240.2" r="0.5"/><circle cx="345.3" cy="238.5" r="0.5"/><circle cx="340.8" cy="225.0" r="0.5"/><circle cx="340.5" cy="231.6" r="0.5"/><circle cx="345.7" cy="242.4" r="0.5"/><circle cx="340.0" cy="250.7" r="0.5"/><circle cx="337.4" cy="240.4" r="0.5"/><circle cx="337.8" cy="250.7" r="0.5"/><circle cx="337.6" cy="261.2" r="0.5"/><circle cx="335.3" cy="245.9" r="0.5"/><circle cx="341.7" cy="234.0" r="0.5"/><circle cx="344.7" cy="247.7" r="0.5"/><circle cx="338.9" cy="231.2" r="0.5"/><circle cx="342.9" cy="224.8" r="0.5"/><circle cx="342.0" cy="238.1" r="0.5"/><circle cx="336.5" cy="242.5" r="0.5"/><circle cx="344.0" cy="234.4" r="0.5"/><circle cx="335.2" cy="232.6" r="0.5"/><circle cx="336.9" cy="245.0" r="0.5"/><circle cx="345.7" cy="243.0" r="0.5"/><circle cx="346.2" cy="245.9" r="0.5"/><circle cx="340.7" cy="255.9" r="0.5"/><circle cx="343.9" cy="247.4" r="0.5"/><circle cx="345.1" cy="242.1" r="0.5"/><circle cx="339.0" cy="236.1" r="0.5"/><circle cx="343.7" cy="231.0" r="0.5"/><circle cx="343.2" cy="240.5" r="0.5"/><circle cx="345.8" cy="258.5" r="0.5"/><circle cx="345.0" cy="234.5" r="0.5"/><circle cx="341.9" cy="250.9" r="0.5"/><circle cx="344.3" cy="230.6" r="0.5"/><circle cx="337.7" cy="239.5" r="0.5"/><circle cx="342.0" cy="251.9" r="0.5"/><circle cx="342.0" cy="249.5" r="0.5"/><circle cx="337.8" cy="235.3" r="0.5"/><circle cx="339.2" cy="255.8" r="0.5"/><circle cx="338.1" cy="247.6" r="0.5"/><circle cx="333.3" cy="229.9" r="0.5"/><circle cx="341.0" cy="245.4" r="0.5"/><circle cx="334.3" cy="245.8" r="0.5"/><circle cx="342.4" cy="226.1" r="0.5"/><circle cx="342.3" cy="258.2" r="0.5"/><circle cx="338.0" cy="230.4" r="0.5"/><circle cx="335.8" cy="248.6" r="0.5"/><circle cx="341.5" cy="236.8" r="0.5"/><circle cx="334.8" cy="257.9" r="0.5"/><circle cx="342.0" cy="249.0" r="0.5"/><circle cx="341.7" cy="253.1" r="0.5"/><circle cx="339.8" cy="253.5" r="0.5"/><circle cx="336.9" cy="249.7" r="0.5"/><circle cx="347.2" cy="230.9" r="0.5"/><circle cx="342.7" cy="229.2" r="0.5"/><circle cx="343.3" cy="230.5" r="0.5"/><circle cx="343.5" cy="238.0" r="0.5"/><circle cx="343.6" cy="243.9" r="0.5"/><circle cx="337.3" cy="239.8" r="0.5"/><circle cx="345.0" cy="225.0" r="0.5"/><circle cx="340.7" cy="248.0" r="0.5"/><circle cx="343.1" cy="245.4" r="0.5"/><circle cx="336.2" cy="257.4" r="0.5"/><circle cx="341.1" cy="261.5" r="0.5"/><circle cx="339.7" cy="247.9" r="0.5"/><circle cx="340.4" cy="249.0" r="0.5"/><circle cx="339.6" cy="239.3" r="0.5"/><circle cx="343.3" cy="257.4" r="0.5"/><circle cx="337.6" cy="228.3" r="0.5"/><circle cx="334.0" cy="244.4" r="0.5"/><circle cx="343.2" cy="230.7" r="0.5"/><circle cx="341.7" cy="235.4" r="0.5"/><circle cx="339.8" cy="223.5" r="0.5"/><circle cx="338.4" cy="252.9" r="0.5"/><circle cx="339.5" cy="258.7" r="0.5"/><circle cx="338.2" cy="261.5" r="0.5"/><circle cx="341.2" cy="256.8" r="0.5"/><circle cx="342.4" cy="225.3" r="0.5"/><circle cx="343.4" cy="261.1" r="0.5"/><circle cx="340.0" cy="253.6" r="0.5"/><circle cx="338.9" cy="258.6" r="0.5"/><circle cx="340.1" cy="240.3" r="0.5"/><circle cx="343.3" cy="234.5" r="0.5"/><circle cx="343.4" cy="228.9" r="0.5"/><circle cx="344.4" cy="237.6" r="0.5"/><circle cx="340.1" cy="251.7" r="0.5"/><circle cx="341.4" cy="248.3" r="0.5"/><circle cx="344.1" cy="244.2" r="0.5"/><circle cx="343.0" cy="233.0" r="0.5"/><circle cx="341.6" cy="229.0" r="0.5"/><circle cx="340.6" cy="255.6" r="0.5"/><circle cx="332.7" cy="246.2" r="0.5"/><circle cx="341.0" cy="226.4" r="0.5"/><circle cx="338.3" cy="233.9" r="0.5"/><circle cx="339.8" cy="240.4" r="0.5"/><circle cx="341.9" cy="250.2" r="0.5"/><circle cx="347.8" cy="230.8" r="0.5"/><circle cx="338.9" cy="255.3" r="0.5"/><circle cx="344.1" cy="256.9" r="0.5"/><circle cx="340.4" cy="232.4" r="0.5"/><circle cx="342.1" cy="256.9" r="0.5"/><circle cx="337.6" cy="247.2" r="0.5"/><circle cx="338.6" cy="251.9" r="0.5"/><circle cx="343.9" cy="242.3" r="0.5"/><circle cx="344.2" cy="234.8" r="0.5"/><circle cx="344.8" cy="258.8" r="0.5"/><circle cx="341.0" cy="260.1" r="0.5"/><circle cx="343.8" cy="233.2" r="0.5"/><circle cx="343.5" cy="234.8" r="0.5"/><circle cx="336.7" cy="236.0" r="0.5"/><circle cx="339.9" cy="236.2" r="0.5"/><circle cx="342.6" cy="233.4" r="0.5"/><circle cx="333.4" cy="262.4" r="0.5"/><circle cx="340.7" cy="257.0" r="0.5"/><circle cx="336.0" cy="255.6" r="0.5"/><circle cx="338.5" cy="238.4" r="0.5"/><circle cx="344.2" cy="239.3" r="0.5"/><circle cx="341.5" cy="236.1" r="0.5"/><circle cx="343.1" cy="250.1" r="0.5"/><circle cx="342.0" cy="237.7" r="0.5"/><circle cx="335.4" cy="263.8" r="0.5"/><circle cx="345.5" cy="257.8" r="0.5"/><circle cx="342.0" cy="257.7" r="0.5"/><circle cx="333.1" cy="262.3" r="0.5"/><circle cx="342.7" cy="243.4" r="0.5"/><circle cx="343.0" cy="253.0" r="0.5"/><circle cx="342.2" cy="241.2" r="0.5"/><circle cx="342.3" cy="240.7" r="0.5"/><circle cx="342.6" cy="239.0" r="0.5"/><circle cx="340.7" cy="246.6" r="0.5"/><circle cx="342.2" cy="251.5" r="0.5"/><circle cx="333.3" cy="251.1" r="0.5"/><circle cx="344.3" cy="254.4" r="0.5"/><circle cx="335.7" cy="234.7" r="0.5"/><circle cx="345.9" cy="233.8" r="0.5"/><circle cx="339.7" cy="240.0" r="0.5"/><circle cx="337.9" cy="258.5" r="0.5"/><circle cx="342.3" cy="258.2" r="0.5"/><circle cx="336.4" cy="259.8" r="0.5"/><circle cx="338.1" cy="262.5" r="0.5"/><circle cx="341.4" cy="227.7" r="0.5"/><circle cx="341.1" cy="237.4" r="0.5"/><circle cx="343.1" cy="261.1" r="0.5"/><circle cx="338.6" cy="256.7" r="0.5"/><circle cx="335.7" cy="253.2" r="0.5"/><circle cx="346.9" cy="232.1" r="0.5"/><circle cx="338.5" cy="258.6" r="0.5"/><circle cx="338.3" cy="236.1" r="0.5"/><circle cx="340.9" cy="229.6" r="0.5"/><circle cx="340.5" cy="257.8" r="0.5"/><circle cx="336.6" cy="240.9" r="0.5"/><circle cx="343.1" cy="241.5" r="0.5"/><circle cx="343.5" cy="232.1" r="0.5"/><circle cx="336.8" cy="253.8" r="0.5"/><circle cx="336.0" cy="233.4" r="0.5"/><circle cx="344.7" cy="258.1" r="0.5"/><circle cx="344.4" cy="238.6" r="0.5"/><circle cx="344.0" cy="260.5" r="0.5"/><circle cx="339.9" cy="260.6" r="0.5"/><circle cx="326.8" cy="256.5" r="0.42"/><circle cx="336.1" cy="247.1" r="0.42"/><circle cx="333.9" cy="249.6" r="0.42"/><circle cx="332.3" cy="245.3" r="0.42"/><circle cx="330.9" cy="250.0" r="0.42"/><circle cx="323.1" cy="254.6" r="0.42"/><circle cx="331.0" cy="258.4" r="0.42"/><circle cx="335.6" cy="256.8" r="0.42"/><circle cx="334.5" cy="241.8" r="0.42"/><circle cx="336.2" cy="241.7" r="0.42"/><circle cx="336.6" cy="255.8" r="0.42"/><circle cx="320.4" cy="257.8" r="0.42"/><circle cx="326.7" cy="260.1" r="0.42"/><circle cx="328.0" cy="243.6" r="0.42"/><circle cx="324.3" cy="248.1" r="0.42"/><circle cx="335.4" cy="244.2" r="0.42"/><circle cx="339.0" cy="256.0" r="0.42"/><circle cx="328.7" cy="239.5" r="0.42"/><circle cx="323.9" cy="254.8" r="0.42"/><circle cx="336.6" cy="240.8" r="0.42"/><circle cx="331.0" cy="247.6" r="0.42"/><circle cx="329.9" cy="254.4" r="0.42"/><circle cx="340.1" cy="244.5" r="0.42"/><circle cx="334.7" cy="259.4" r="0.42"/><circle cx="329.8" cy="248.7" r="0.42"/><circle cx="325.2" cy="259.4" r="0.42"/><circle cx="328.7" cy="244.3" r="0.42"/><circle cx="331.3" cy="242.6" r="0.42"/><circle cx="326.5" cy="247.4" r="0.42"/><circle cx="337.4" cy="248.2" r="0.42"/><circle cx="333.3" cy="237.3" r="0.42"/><circle cx="329.3" cy="236.6" r="0.42"/><circle cx="330.5" cy="255.3" r="0.42"/><circle cx="323.5" cy="242.3" r="0.42"/><circle cx="332.1" cy="242.0" r="0.42"/><circle cx="334.5" cy="258.3" r="0.42"/><circle cx="332.9" cy="246.3" r="0.42"/><circle cx="330.8" cy="244.5" r="0.42"/><circle cx="330.4" cy="252.8" r="0.42"/><circle cx="329.7" cy="258.5" r="0.42"/><circle cx="342.3" cy="245.2" r="0.42"/><circle cx="332.5" cy="257.1" r="0.42"/><circle cx="333.8" cy="247.9" r="0.42"/><circle cx="328.9" cy="258.7" r="0.42"/><circle cx="333.7" cy="254.4" r="0.42"/><circle cx="327.5" cy="255.5" r="0.42"/><circle cx="334.5" cy="248.4" r="0.42"/><circle cx="322.8" cy="255.3" r="0.42"/><circle cx="325.9" cy="238.1" r="0.42"/><circle cx="330.0" cy="254.7" r="0.42"/><circle cx="331.2" cy="239.9" r="0.42"/><circle cx="324.7" cy="245.2" r="0.42"/><circle cx="331.1" cy="242.8" r="0.42"/><circle cx="327.4" cy="248.6" r="0.42"/><circle cx="328.6" cy="244.9" r="0.42"/><circle cx="331.2" cy="247.4" r="0.42"/><circle cx="333.7" cy="239.7" r="0.42"/><circle cx="330.7" cy="256.7" r="0.42"/><circle cx="336.1" cy="254.8" r="0.42"/><circle cx="331.2" cy="236.5" r="0.42"/><circle cx="324.0" cy="258.5" r="0.42"/><circle cx="333.9" cy="255.0" r="0.42"/><circle cx="323.8" cy="231.4" r="0.42"/><circle cx="326.4" cy="239.7" r="0.42"/><circle cx="331.7" cy="241.1" r="0.42"/><circle cx="337.9" cy="244.6" r="0.42"/><circle cx="328.6" cy="257.5" r="0.42"/><circle cx="332.4" cy="242.2" r="0.42"/><circle cx="325.6" cy="247.8" r="0.42"/><circle cx="326.3" cy="233.1" r="0.42"/><circle cx="333.7" cy="256.1" r="0.42"/><circle cx="335.3" cy="253.7" r="0.42"/><circle cx="322.2" cy="249.8" r="0.42"/><circle cx="328.1" cy="239.7" r="0.42"/><circle cx="326.2" cy="256.7" r="0.42"/><circle cx="333.1" cy="233.3" r="0.42"/><circle cx="334.9" cy="260.9" r="0.42"/><circle cx="331.1" cy="239.4" r="0.42"/><circle cx="338.7" cy="238.5" r="0.42"/><circle cx="330.6" cy="233.3" r="0.42"/><circle cx="325.5" cy="235.1" r="0.42"/><circle cx="336.4" cy="264.1" r="0.42"/><circle cx="327.6" cy="260.2" r="0.42"/><circle cx="329.6" cy="262.9" r="0.42"/><circle cx="321.1" cy="260.5" r="0.42"/><circle cx="329.4" cy="263.4" r="0.42"/><circle cx="330.4" cy="263.0" r="0.42"/><circle cx="322.7" cy="258.4" r="0.42"/><circle cx="331.8" cy="260.9" r="0.42"/><circle cx="329.3" cy="261.7" r="0.42"/><circle cx="332.8" cy="261.1" r="0.42"/><circle cx="338.5" cy="262.3" r="0.42"/><circle cx="333.1" cy="263.3" r="0.42"/><circle cx="336.1" cy="262.9" r="0.42"/><circle cx="319.8" cy="261.3" r="0.42"/><circle cx="340.9" cy="263.0" r="0.42"/><circle cx="333.3" cy="263.0" r="0.42"/><circle cx="326.2" cy="261.2" r="0.42"/><circle cx="326.2" cy="264.1" r="0.42"/><circle cx="332.7" cy="260.4" r="0.42"/><circle cx="340.2" cy="262.8" r="0.42"/><circle cx="337.0" cy="262.6" r="0.42"/><circle cx="328.1" cy="262.6" r="0.42"/><circle cx="323.4" cy="260.4" r="0.42"/><circle cx="324.8" cy="261.5" r="0.42"/><circle cx="322.0" cy="262.1" r="0.42"/><circle cx="340.8" cy="262.2" r="0.42"/><circle cx="335.2" cy="262.0" r="0.42"/><circle cx="332.3" cy="262.2" r="0.42"/><circle cx="326.8" cy="262.4" r="0.42"/><circle cx="321.3" cy="263.0" r="0.42"/><circle cx="328.3" cy="260.6" r="0.42"/><circle cx="327.9" cy="263.2" r="0.42"/><circle cx="326.0" cy="263.0" r="0.42"/><circle cx="323.6" cy="262.1" r="0.42"/><circle cx="331.5" cy="263.5" r="0.42"/><circle cx="321.3" cy="261.4" r="0.42"/><circle cx="339.8" cy="261.9" r="0.42"/><circle cx="342.8" cy="261.2" r="0.42"/><circle cx="328.4" cy="259.8" r="0.42"/><circle cx="333.8" cy="262.7" r="0.42"/><circle cx="341.9" cy="262.6" r="0.42"/><circle cx="328.5" cy="260.1" r="0.42"/><circle cx="329.5" cy="263.8" r="0.42"/><circle cx="335.1" cy="262.2" r="0.42"/><circle cx="333.6" cy="262.6" r="0.42"/><circle cx="332.2" cy="260.6" r="0.42"/><circle cx="332.3" cy="262.8" r="0.42"/><circle cx="339.1" cy="260.8" r="0.42"/><circle cx="319.0" cy="262.7" r="0.42"/><circle cx="332.0" cy="262.9" r="0.42"/><circle cx="323.4" cy="261.6" r="0.42"/><circle cx="331.2" cy="263.5" r="0.42"/><circle cx="343.0" cy="262.8" r="0.42"/><circle cx="326.4" cy="258.6" r="0.42"/><circle cx="336.4" cy="262.1" r="0.42"/><circle cx="329.3" cy="260.7" r="0.42"/><circle cx="334.4" cy="259.5" r="0.42"/><circle cx="330.6" cy="262.5" r="0.42"/><circle cx="329.4" cy="262.4" r="0.42"/><circle cx="335.1" cy="259.8" r="0.42"/><circle cx="328.3" cy="262.4" r="0.42"/><circle cx="335.7" cy="261.0" r="0.42"/><circle cx="334.8" cy="262.9" r="0.42"/><circle cx="321.1" cy="260.0" r="0.42"/><circle cx="321.5" cy="262.5" r="0.42"/><circle cx="331.2" cy="263.4" r="0.42"/><circle cx="334.9" cy="261.4" r="0.42"/><circle cx="336.4" cy="263.6" r="0.42"/><circle cx="332.8" cy="263.1" r="0.42"/><circle cx="322.3" cy="262.9" r="0.42"/><circle cx="323.8" cy="260.4" r="0.42"/><circle cx="327.9" cy="262.5" r="0.42"/><circle cx="329.7" cy="261.8" r="0.42"/><circle cx="324.0" cy="262.6" r="0.42"/><circle cx="325.6" cy="260.1" r="0.42"/><circle cx="327.6" cy="260.6" r="0.42"/><circle cx="328.2" cy="262.0" r="0.42"/><circle cx="330.8" cy="263.9" r="0.42"/><circle cx="332.6" cy="259.4" r="0.42"/><circle cx="323.4" cy="260.3" r="0.42"/><circle cx="332.6" cy="262.5" r="0.42"/><circle cx="340.7" cy="261.9" r="0.42"/><circle cx="331.8" cy="262.4" r="0.42"/><circle cx="337.8" cy="261.3" r="0.42"/><circle cx="334.1" cy="261.7" r="0.42"/><circle cx="330.7" cy="262.6" r="0.42"/><circle cx="330.1" cy="261.6" r="0.42"/><circle cx="339.3" cy="261.9" r="0.42"/><circle cx="333.7" cy="263.9" r="0.42"/><circle cx="338.3" cy="264.0" r="0.42"/><circle cx="340.3" cy="260.0" r="0.42"/><circle cx="341.7" cy="262.3" r="0.42"/><circle cx="319.5" cy="261.3" r="0.42"/><circle cx="321.7" cy="262.3" r="0.42"/><circle cx="321.1" cy="260.7" r="0.42"/><circle cx="331.8" cy="262.6" r="0.42"/><circle cx="325.2" cy="261.9" r="0.42"/><circle cx="329.4" cy="262.4" r="0.42"/><circle cx="330.0" cy="261.9" r="0.42"/><circle cx="335.3" cy="259.7" r="0.42"/><circle cx="327.0" cy="262.5" r="0.42"/><circle cx="327.6" cy="261.4" r="0.42"/><circle cx="327.4" cy="262.6" r="0.42"/><circle cx="337.5" cy="262.0" r="0.42"/><circle cx="356.0" cy="259.7" r="0.4"/><circle cx="356.2" cy="251.9" r="0.4"/><circle cx="360.0" cy="257.2" r="0.4"/><circle cx="353.7" cy="260.6" r="0.4"/><circle cx="358.3" cy="256.6" r="0.4"/><circle cx="358.1" cy="258.1" r="0.4"/><circle cx="361.3" cy="259.3" r="0.4"/><circle cx="354.4" cy="254.2" r="0.4"/><circle cx="356.5" cy="252.5" r="0.4"/><circle cx="370.2" cy="255.1" r="0.4"/><circle cx="357.6" cy="257.7" r="0.4"/><circle cx="351.9" cy="252.5" r="0.4"/><circle cx="357.9" cy="261.4" r="0.4"/><circle cx="354.1" cy="261.0" r="0.4"/><circle cx="364.7" cy="260.6" r="0.4"/><circle cx="368.8" cy="257.9" r="0.4"/><circle cx="369.6" cy="256.1" r="0.4"/><circle cx="358.1" cy="255.8" r="0.4"/><circle cx="358.0" cy="262.0" r="0.4"/><circle cx="363.4" cy="258.8" r="0.4"/><circle cx="370.8" cy="253.5" r="0.4"/><circle cx="351.9" cy="263.6" r="0.4"/><circle cx="360.6" cy="254.5" r="0.4"/><circle cx="369.1" cy="262.4" r="0.4"/><circle cx="353.9" cy="262.9" r="0.4"/><circle cx="351.7" cy="261.6" r="0.4"/><circle cx="362.3" cy="258.1" r="0.4"/><circle cx="362.4" cy="259.8" r="0.4"/><circle cx="363.8" cy="258.7" r="0.4"/><circle cx="361.6" cy="261.8" r="0.4"/><circle cx="353.6" cy="253.7" r="0.4"/><circle cx="357.7" cy="252.8" r="0.4"/><circle cx="358.1" cy="261.1" r="0.4"/><circle cx="369.3" cy="259.4" r="0.4"/><circle cx="359.5" cy="261.0" r="0.4"/><circle cx="368.5" cy="257.4" r="0.4"/><circle cx="357.1" cy="259.7" r="0.4"/><circle cx="359.2" cy="258.7" r="0.4"/><circle cx="355.3" cy="259.9" r="0.4"/><circle cx="364.6" cy="261.1" r="0.4"/><circle cx="369.2" cy="257.5" r="0.4"/><circle cx="359.5" cy="259.9" r="0.4"/><circle cx="355.5" cy="261.8" r="0.4"/><circle cx="355.0" cy="255.1" r="0.4"/><circle cx="357.5" cy="257.0" r="0.4"/><circle cx="364.3" cy="257.2" r="0.4"/><circle cx="358.9" cy="257.8" r="0.4"/><circle cx="360.6" cy="256.4" r="0.4"/><circle cx="366.3" cy="253.7" r="0.4"/><circle cx="355.1" cy="256.1" r="0.4"/><circle cx="362.9" cy="258.6" r="0.4"/><circle cx="361.6" cy="257.4" r="0.4"/><circle cx="352.6" cy="254.7" r="0.4"/><circle cx="355.5" cy="256.7" r="0.4"/><circle cx="360.1" cy="259.7" r="0.4"/><circle cx="365.3" cy="258.1" r="0.4"/><circle cx="352.4" cy="254.9" r="0.4"/><circle cx="358.5" cy="259.7" r="0.4"/><circle cx="372.6" cy="259.1" r="0.4"/><circle cx="350.1" cy="262.6" r="0.4"/><circle cx="366.5" cy="263.1" r="0.4"/><circle cx="357.9" cy="261.7" r="0.4"/><circle cx="354.4" cy="258.3" r="0.4"/><circle cx="356.4" cy="261.7" r="0.4"/><circle cx="358.5" cy="256.1" r="0.4"/><circle cx="362.2" cy="263.8" r="0.4"/><circle cx="353.6" cy="263.8" r="0.4"/><circle cx="353.6" cy="262.6" r="0.4"/><circle cx="362.0" cy="263.1" r="0.4"/><circle cx="351.2" cy="262.0" r="0.4"/><circle cx="360.2" cy="263.5" r="0.4"/><circle cx="355.9" cy="263.4" r="0.4"/><circle cx="363.7" cy="263.5" r="0.4"/><circle cx="354.5" cy="263.4" r="0.4"/><circle cx="361.2" cy="264.2" r="0.4"/><circle cx="362.5" cy="263.5" r="0.4"/><circle cx="353.5" cy="264.0" r="0.4"/><circle cx="370.6" cy="262.9" r="0.4"/><circle cx="365.7" cy="263.5" r="0.4"/><circle cx="359.6" cy="262.3" r="0.4"/><circle cx="375.8" cy="261.8" r="0.4"/><circle cx="362.7" cy="263.0" r="0.4"/><circle cx="370.3" cy="263.0" r="0.4"/><circle cx="360.4" cy="263.8" r="0.4"/><circle cx="364.1" cy="262.9" r="0.4"/><circle cx="366.1" cy="263.6" r="0.4"/><circle cx="368.9" cy="262.9" r="0.4"/><circle cx="359.6" cy="263.0" r="0.4"/><circle cx="352.5" cy="263.5" r="0.4"/><circle cx="357.1" cy="263.6" r="0.4"/><circle cx="370.3" cy="263.2" r="0.4"/><circle cx="360.6" cy="263.4" r="0.4"/><circle cx="353.8" cy="262.5" r="0.4"/><circle cx="370.0" cy="263.4" r="0.4"/><circle cx="359.3" cy="262.3" r="0.4"/><circle cx="373.9" cy="262.9" r="0.4"/><circle cx="365.4" cy="262.7" r="0.4"/><circle cx="364.7" cy="263.0" r="0.4"/><circle cx="363.0" cy="263.1" r="0.4"/></g>
<rect x="316.2" y="195.1" width="71.6" height="70.1" fill="none" stroke="#666" stroke-width="0.8"/>
<line x1="348.90" y1="195.10" x2="348.90" y2="265.20" stroke="#222" stroke-width="0.95" />
<line x1="316.20" y1="250.90" x2="387.80" y2="250.90" stroke="#222" stroke-width="0.95" />
<text x="317.6" y="201.1" font-size="6.9" text-anchor="start" font-weight="normal" fill="#262626" stroke="#262626" stroke-width="0.22" >35.3</text>
<text x="383.8" y="201.1" font-size="6.9" text-anchor="end" font-weight="normal" fill="#262626" stroke="#262626" stroke-width="0.22" >0.3</text>
<text x="317.6" y="264.4" font-size="6.9" text-anchor="start" font-weight="normal" fill="#262626" stroke="#262626" stroke-width="0.22" >62.0</text>
<text x="383.8" y="264.4" font-size="6.9" text-anchor="end" font-weight="normal" fill="#262626" stroke="#262626" stroke-width="0.22" >2.4</text>
<text x="309.2" y="230.2" font-size="6.75" text-anchor="middle" font-weight="normal" fill="#3a3a3a" stroke="#3a3a3a" stroke-width="0.12" transform="rotate(-90 309.2 230.2)" >IFN-&#947; (AL647)</text>
<text x="352.5" y="277.9" font-size="6.8" text-anchor="middle" font-weight="normal" fill="#3a3a3a" stroke="#3a3a3a" stroke-width="0.12" >IL-13 (PE)</text>
<text x="315.5" y="270.8" font-size="4.1" text-anchor="start" font-weight="normal" fill="#2a2a2a" stroke="#2a2a2a" stroke-width="0.16" >10</text>
<text x="320.0" y="269.0" font-size="2.9" text-anchor="start" font-weight="normal" fill="#2a2a2a" stroke="#2a2a2a" stroke-width="0.14" >0</text>
<text x="314.6" y="263.7" font-size="3.8" text-anchor="start" font-weight="normal" fill="#333" stroke="#333" stroke-width="0.15" transform="rotate(-90 314.6 263.7)" >10</text>
<text x="312.9" y="259.40000000000003" font-size="2.7" text-anchor="start" font-weight="normal" fill="#333" stroke="#333" stroke-width="0.12" transform="rotate(-90 312.9 259.40000000000003)" >0</text>
<text x="332.8" y="270.8" font-size="4.1" text-anchor="start" font-weight="normal" fill="#2a2a2a" stroke="#2a2a2a" stroke-width="0.16" >10</text>
<text x="337.3" y="269.0" font-size="2.9" text-anchor="start" font-weight="normal" fill="#2a2a2a" stroke="#2a2a2a" stroke-width="0.14" >1</text>
<text x="314.6" y="247.00000000000003" font-size="3.8" text-anchor="start" font-weight="normal" fill="#333" stroke="#333" stroke-width="0.15" transform="rotate(-90 314.6 247.00000000000003)" >10</text>
<text x="312.9" y="242.70000000000002" font-size="2.7" text-anchor="start" font-weight="normal" fill="#333" stroke="#333" stroke-width="0.12" transform="rotate(-90 312.9 242.70000000000002)" >1</text>
<text x="350.1" y="270.8" font-size="4.1" text-anchor="start" font-weight="normal" fill="#2a2a2a" stroke="#2a2a2a" stroke-width="0.16" >10</text>
<text x="354.6" y="269.0" font-size="2.9" text-anchor="start" font-weight="normal" fill="#2a2a2a" stroke="#2a2a2a" stroke-width="0.14" >2</text>
<text x="314.6" y="230.3" font-size="3.8" text-anchor="start" font-weight="normal" fill="#333" stroke="#333" stroke-width="0.15" transform="rotate(-90 314.6 230.3)" >10</text>
<text x="312.9" y="226.0" font-size="2.7" text-anchor="start" font-weight="normal" fill="#333" stroke="#333" stroke-width="0.12" transform="rotate(-90 312.9 226.0)" >2</text>
<text x="367.4" y="270.8" font-size="4.1" text-anchor="start" font-weight="normal" fill="#2a2a2a" stroke="#2a2a2a" stroke-width="0.16" >10</text>
<text x="371.9" y="269.0" font-size="2.9" text-anchor="start" font-weight="normal" fill="#2a2a2a" stroke="#2a2a2a" stroke-width="0.14" >3</text>
<text x="314.6" y="213.60000000000002" font-size="3.8" text-anchor="start" font-weight="normal" fill="#333" stroke="#333" stroke-width="0.15" transform="rotate(-90 314.6 213.60000000000002)" >10</text>
<text x="312.9" y="209.3" font-size="2.7" text-anchor="start" font-weight="normal" fill="#333" stroke="#333" stroke-width="0.12" transform="rotate(-90 312.9 209.3)" >3</text>
<text x="384.7" y="270.8" font-size="4.1" text-anchor="start" font-weight="normal" fill="#2a2a2a" stroke="#2a2a2a" stroke-width="0.16" >10</text>
<text x="389.2" y="269.0" font-size="2.9" text-anchor="start" font-weight="normal" fill="#2a2a2a" stroke="#2a2a2a" stroke-width="0.14" >4</text>
<text x="314.6" y="196.9" font-size="3.8" text-anchor="start" font-weight="normal" fill="#333" stroke="#333" stroke-width="0.15" transform="rotate(-90 314.6 196.9)" >10</text>
<text x="312.9" y="192.6" font-size="2.7" text-anchor="start" font-weight="normal" fill="#333" stroke="#333" stroke-width="0.12" transform="rotate(-90 312.9 192.6)" >4</text>
<line x1="423.00" y1="193.90" x2="423.00" y2="253.10" stroke="#111" stroke-width="1.05" />
<line x1="420.40" y1="194.30" x2="423.00" y2="194.30" stroke="#111" stroke-width="0.95" />
<text x="419.5" y="197.0" font-size="7.5" text-anchor="end" font-weight="normal" fill="#111" stroke="#111" stroke-width="0.28" >10.0</text>
<line x1="420.40" y1="209.00" x2="423.00" y2="209.00" stroke="#111" stroke-width="0.95" />
<text x="419.5" y="211.7" font-size="7.5" text-anchor="end" font-weight="normal" fill="#111" stroke="#111" stroke-width="0.28" >7.5</text>
<line x1="420.40" y1="223.70" x2="423.00" y2="223.70" stroke="#111" stroke-width="0.95" />
<text x="419.5" y="226.39999999999998" font-size="7.5" text-anchor="end" font-weight="normal" fill="#111" stroke="#111" stroke-width="0.28" >5.0</text>
<line x1="420.40" y1="238.40" x2="423.00" y2="238.40" stroke="#111" stroke-width="0.95" />
<text x="419.5" y="241.1" font-size="7.5" text-anchor="end" font-weight="normal" fill="#111" stroke="#111" stroke-width="0.28" >2.5</text>
<line x1="420.40" y1="253.10" x2="423.00" y2="253.10" stroke="#111" stroke-width="0.95" />
<text x="419.5" y="255.79999999999998" font-size="7.5" text-anchor="end" font-weight="normal" fill="#111" stroke="#111" stroke-width="0.28" >0.0</text>
<line x1="423.00" y1="253.10" x2="517.60" y2="253.10" stroke="#111" stroke-width="1.05" />
<line x1="423.00" y1="227.30" x2="519.50" y2="227.30" stroke="#666" stroke-width="0.9" />
<line x1="429.00" y1="227.30" x2="429.00" y2="224.20" stroke="#222" stroke-width="0.95" />
<line x1="426.40" y1="224.20" x2="431.60" y2="224.20" stroke="#222" stroke-width="0.95" />
<rect x="424.20" y="227.30" width="9.60" height="25.80" fill="#000" stroke="#000" stroke-width="0.3"/>
<rect x="437.70" y="252.30" width="9.90" height="0.80" fill="#000" stroke="#000" stroke-width="0.3"/>
<text x="446.15" y="254.4" font-size="6.9" text-anchor="end" font-weight="normal" fill="#262626" stroke="#262626" stroke-width="0.22" transform="rotate(-90 446.15 254.4)" >1&#181;M</text>
<line x1="456.75" y1="199.40" x2="456.75" y2="198.90" stroke="#222" stroke-width="0.95" />
<line x1="454.15" y1="198.90" x2="459.35" y2="198.90" stroke="#222" stroke-width="0.95" />
<rect x="451.80" y="199.40" width="9.90" height="53.70" fill="#000" stroke="#000" stroke-width="0.3"/>
<text x="460.25" y="254.4" font-size="6.9" text-anchor="end" font-weight="normal" fill="#262626" stroke="#262626" stroke-width="0.22" transform="rotate(-90 460.25 254.4)" >1nM</text>
<line x1="470.75" y1="235.40" x2="470.75" y2="232.00" stroke="#222" stroke-width="0.95" />
<line x1="468.15" y1="232.00" x2="473.35" y2="232.00" stroke="#222" stroke-width="0.95" />
<rect x="465.80" y="235.40" width="9.90" height="17.70" fill="#000" stroke="#000" stroke-width="0.3"/>
<text x="474.25" y="254.4" font-size="6.9" text-anchor="end" font-weight="normal" fill="#262626" stroke="#262626" stroke-width="0.22" transform="rotate(-90 474.25 254.4)" >1&#181;M</text>
<line x1="484.55" y1="213.00" x2="484.55" y2="212.60" stroke="#222" stroke-width="0.95" />
<line x1="481.95" y1="212.60" x2="487.15" y2="212.60" stroke="#222" stroke-width="0.95" />
<rect x="479.60" y="213.00" width="9.90" height="40.10" fill="#000" stroke="#000" stroke-width="0.3"/>
<text x="488.05" y="254.4" font-size="6.9" text-anchor="end" font-weight="normal" fill="#262626" stroke="#262626" stroke-width="0.22" transform="rotate(-90 488.05 254.4)" >1nM</text>
<rect x="493.30" y="240.90" width="9.90" height="12.20" fill="#000" stroke="#000" stroke-width="0.3"/>
<text x="501.75" y="254.4" font-size="6.9" text-anchor="end" font-weight="normal" fill="#262626" stroke="#262626" stroke-width="0.22" transform="rotate(-90 501.75 254.4)" >200&#181;M</text>
<line x1="512.25" y1="208.80" x2="512.25" y2="206.30" stroke="#222" stroke-width="0.95" />
<line x1="509.65" y1="206.30" x2="514.85" y2="206.30" stroke="#222" stroke-width="0.95" />
<rect x="507.30" y="208.80" width="9.90" height="44.30" fill="#000" stroke="#000" stroke-width="0.3"/>
<text x="515.75" y="254.4" font-size="6.9" text-anchor="end" font-weight="normal" fill="#262626" stroke="#262626" stroke-width="0.22" transform="rotate(-90 515.75 254.4)" >5&#181;M</text>
<line x1="435.90" y1="253.10" x2="435.90" y2="259.80" stroke="#111" stroke-width="0.95" />
<line x1="463.00" y1="253.10" x2="463.00" y2="259.80" stroke="#111" stroke-width="0.95" />
<line x1="490.70" y1="253.10" x2="490.70" y2="259.80" stroke="#111" stroke-width="0.95" />
<line x1="421.60" y1="279.30" x2="435.40" y2="279.30" stroke="#222" stroke-width="0.85" />
<line x1="438.60" y1="279.30" x2="462.90" y2="279.30" stroke="#222" stroke-width="0.85" />
<line x1="465.40" y1="279.30" x2="489.30" y2="279.30" stroke="#222" stroke-width="0.85" />
<line x1="491.40" y1="279.30" x2="519.20" y2="279.30" stroke="#222" stroke-width="0.85" />
<text x="428.8" y="288.2" font-size="6.8" text-anchor="middle" font-weight="normal" fill="#262626" stroke="#262626" stroke-width="0.22" >Veh.</text>
<text x="451" y="288.2" font-size="6.8" text-anchor="middle" font-weight="normal" fill="#262626" stroke="#262626" stroke-width="0.22" >PGE<tspan font-size="4.6" dy="1.6">2</tspan></text>
<text x="476.8" y="288.2" font-size="6.8" text-anchor="middle" font-weight="normal" fill="#262626" stroke="#262626" stroke-width="0.22" >ISO</text>
<text x="505.2" y="288.2" font-size="6.75" text-anchor="middle" font-weight="normal" fill="#262626" stroke="#262626" stroke-width="0.22" >db-cAMP</text>
<text x="401" y="223.4" font-size="7.5" text-anchor="middle" font-weight="normal" fill="#111" stroke="#111" stroke-width="0.28" transform="rotate(-90 401 223.4)" >IL-13, ng/mL</text>
<line x1="25.50" y1="327.50" x2="25.50" y2="397.30" stroke="#222" stroke-width="1.0" />
<line x1="23.20" y1="328.00" x2="25.50" y2="328.00" stroke="#222" stroke-width="0.85" />
<text x="22.6" y="330.45" font-size="6.8" text-anchor="end" font-weight="normal" fill="#262626" stroke="#262626" stroke-width="0.22" >2.5</text>
<line x1="23.20" y1="341.86" x2="25.50" y2="341.86" stroke="#222" stroke-width="0.85" />
<text x="22.6" y="344.31" font-size="6.8" text-anchor="end" font-weight="normal" fill="#262626" stroke="#262626" stroke-width="0.22" >2.0</text>
<line x1="23.20" y1="355.72" x2="25.50" y2="355.72" stroke="#222" stroke-width="0.85" />
<text x="22.6" y="358.17" font-size="6.8" text-anchor="end" font-weight="normal" fill="#262626" stroke="#262626" stroke-width="0.22" >1.5</text>
<line x1="23.20" y1="369.58" x2="25.50" y2="369.58" stroke="#222" stroke-width="0.85" />
<text x="22.6" y="372.03000000000003" font-size="6.8" text-anchor="end" font-weight="normal" fill="#262626" stroke="#262626" stroke-width="0.22" >1.0</text>
<line x1="23.20" y1="383.44" x2="25.50" y2="383.44" stroke="#222" stroke-width="0.85" />
<text x="22.6" y="385.89" font-size="6.8" text-anchor="end" font-weight="normal" fill="#262626" stroke="#262626" stroke-width="0.22" >0.5</text>
<line x1="23.20" y1="397.30" x2="25.50" y2="397.30" stroke="#222" stroke-width="0.85" />
<text x="22.6" y="399.75" font-size="6.8" text-anchor="end" font-weight="normal" fill="#262626" stroke="#262626" stroke-width="0.22" >0.0</text>
<line x1="25.50" y1="397.30" x2="132.20" y2="397.30" stroke="#222" stroke-width="1.0" />
<line x1="25.50" y1="330.80" x2="131.20" y2="330.80" stroke="#777" stroke-width="0.8" />
<rect x="29.30" y="351.50" width="9.00" height="45.80" fill="#fff" stroke="#111" stroke-width="0.85"/>
<rect x="38.30" y="351.10" width="9.00" height="46.20" fill="#000" stroke="#000" stroke-width="0.5"/>
<text x="38.2" y="406.4" font-size="6.8" text-anchor="middle" font-weight="normal" fill="#262626" stroke="#262626" stroke-width="0.22" >0</text>
<rect x="55.60" y="333.20" width="9.00" height="64.10" fill="#fff" stroke="#111" stroke-width="0.85"/>
<rect x="64.60" y="346.50" width="9.00" height="50.80" fill="#000" stroke="#000" stroke-width="0.5"/>
<text x="65.4" y="406.4" font-size="6.8" text-anchor="middle" font-weight="normal" fill="#262626" stroke="#262626" stroke-width="0.22" >500</text>
<rect x="82.00" y="336.10" width="9.00" height="61.20" fill="#fff" stroke="#111" stroke-width="0.85"/>
<rect x="91.00" y="349.40" width="9.00" height="47.90" fill="#000" stroke="#000" stroke-width="0.5"/>
<text x="91.5" y="406.4" font-size="6.8" text-anchor="middle" font-weight="normal" fill="#262626" stroke="#262626" stroke-width="0.22" >50</text>
<rect x="108.30" y="349.40" width="9.00" height="47.90" fill="#fff" stroke="#111" stroke-width="0.85"/>
<rect x="117.30" y="348.60" width="9.00" height="48.70" fill="#000" stroke="#000" stroke-width="0.5"/>
<text x="117.1" y="406.4" font-size="6.8" text-anchor="middle" font-weight="normal" fill="#262626" stroke="#262626" stroke-width="0.22" >5</text>
<text x="77.7" y="416.9" font-size="6.6" text-anchor="middle" font-weight="normal" fill="#262626" stroke="#262626" stroke-width="0.22" >[antagonist] (nM)</text>
<rect x="27.60" y="318.80" width="10.10" height="4.80" fill="#fff" stroke="#111" stroke-width="0.9"/>
<text x="38.9" y="324" font-size="6.85" text-anchor="start" font-weight="normal" fill="#262626" stroke="#262626" stroke-width="0.22" >ICI-118,551</text>
<rect x="81.40" y="318.90" width="10.30" height="4.90" fill="#000" stroke="#000" stroke-width="0.6"/>
<text x="93.1" y="324" font-size="6.85" text-anchor="start" font-weight="normal" fill="#262626" stroke="#262626" stroke-width="0.22" >CGP20712A</text>
<text x="7.9" y="361.2" font-size="6.6" text-anchor="middle" font-weight="normal" fill="#262626" stroke="#262626" stroke-width="0.22" transform="rotate(-90 7.9 361.2)" >IL-13 production, MFI</text>
<line x1="171.20" y1="332.60" x2="171.20" y2="397.60" stroke="#222" stroke-width="1.0" />
<line x1="168.90" y1="333.00" x2="171.20" y2="333.00" stroke="#222" stroke-width="0.85" />
<text x="168.29999999999998" y="335.445" font-size="6.8" text-anchor="end" font-weight="normal" fill="#262626" stroke="#262626" stroke-width="0.22" >1.5</text>
<line x1="168.90" y1="345.92" x2="171.20" y2="345.92" stroke="#222" stroke-width="0.85" />
<text x="168.29999999999998" y="348.36600000000004" font-size="6.8" text-anchor="end" font-weight="normal" fill="#262626" stroke="#262626" stroke-width="0.22" >1.2</text>
<line x1="168.90" y1="358.84" x2="171.20" y2="358.84" stroke="#222" stroke-width="0.85" />
<text x="168.29999999999998" y="361.28700000000003" font-size="6.8" text-anchor="end" font-weight="normal" fill="#262626" stroke="#262626" stroke-width="0.22" >0.9</text>
<line x1="168.90" y1="371.76" x2="171.20" y2="371.76" stroke="#222" stroke-width="0.85" />
<text x="168.29999999999998" y="374.208" font-size="6.8" text-anchor="end" font-weight="normal" fill="#262626" stroke="#262626" stroke-width="0.22" >0.6</text>
<line x1="168.90" y1="384.68" x2="171.20" y2="384.68" stroke="#222" stroke-width="0.85" />
<text x="168.29999999999998" y="387.129" font-size="6.8" text-anchor="end" font-weight="normal" fill="#262626" stroke="#262626" stroke-width="0.22" >0.3</text>
<line x1="168.90" y1="397.60" x2="171.20" y2="397.60" stroke="#222" stroke-width="0.85" />
<text x="168.29999999999998" y="400.05" font-size="6.8" text-anchor="end" font-weight="normal" fill="#262626" stroke="#262626" stroke-width="0.22" >0.0</text>
<line x1="171.20" y1="397.60" x2="248.00" y2="397.60" stroke="#222" stroke-width="1.0" />
<rect x="177.60" y="339.80" width="12.15" height="57.80" fill="#fff" stroke="#111" stroke-width="0.85"/>
<rect x="189.75" y="360.20" width="12.15" height="37.40" fill="#000" stroke="#000" stroke-width="0.5"/>
<rect x="214.40" y="376.30" width="12.15" height="21.30" fill="#fff" stroke="#111" stroke-width="0.85"/>
<rect x="226.55" y="382.80" width="12.15" height="14.80" fill="#000" stroke="#000" stroke-width="0.5"/>
<text x="193.2" y="355.5" font-size="7.0" text-anchor="start" font-weight="normal" fill="#262626" stroke="#262626" stroke-width="0.22" >-35%</text>
<text x="229.0" y="379.4" font-size="7.0" text-anchor="start" font-weight="normal" fill="#262626" stroke="#262626" stroke-width="0.22" >-30%</text>
<rect x="213.90" y="329.00" width="10.20" height="4.50" fill="#fff" stroke="#111" stroke-width="0.9"/>
<text x="225.6" y="333.7" font-size="6.95" text-anchor="start" font-weight="normal" fill="#262626" stroke="#262626" stroke-width="0.22" >vehicle</text>
<rect x="213.90" y="338.20" width="10.20" height="4.30" fill="#000" stroke="#000" stroke-width="0.6"/>
<text x="225.6" y="342.6" font-size="6.95" text-anchor="start" font-weight="normal" fill="#262626" stroke="#262626" stroke-width="0.22" >ISO</text>
<text x="178.6" y="409.8" font-size="6.9" text-anchor="start" font-weight="normal" fill="#262626" stroke="#262626" stroke-width="0.22" >CD8</text>
<line x1="194.90" y1="405.70" x2="200.50" y2="405.70" stroke="#888" stroke-width="0.6" />
<text x="216.7" y="409.8" font-size="6.9" text-anchor="start" font-weight="normal" fill="#262626" stroke="#262626" stroke-width="0.22" >CD8</text>
<text x="234.2" y="406.8" font-size="4.8" text-anchor="middle" font-weight="normal" fill="#262626" stroke="#262626" stroke-width="0.22" >+</text>
<text x="152.1" y="364.25" font-size="6.95" text-anchor="middle" font-weight="normal" fill="#262626" stroke="#262626" stroke-width="0.22" transform="rotate(-90 152.1 364.25)" >IL-13 production, MFI</text>
</g></svg></body></html>
